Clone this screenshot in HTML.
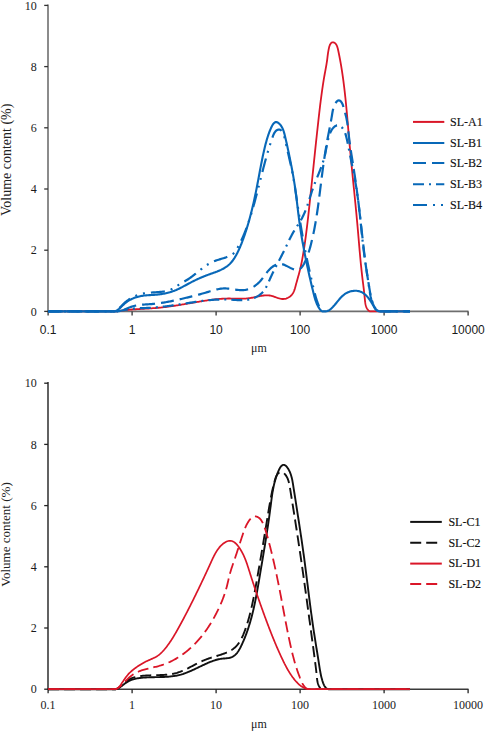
<!DOCTYPE html>
<html><head><meta charset="utf-8"><style>
html,body{margin:0;padding:0;background:#fff;width:485px;height:732px;overflow:hidden}
svg{display:block}
.ser{font-family:"Liberation Serif",serif;font-size:12px;fill:#1a1a1a}
.leg{font-family:"Liberation Serif",serif;font-size:12px;fill:#111;stroke:#111;stroke-width:0.15px}
.ser13{font-family:"Liberation Serif",serif;font-size:13px;fill:#222}
.san{font-family:"Liberation Sans",sans-serif;font-size:12px;fill:#1a1a1a}
</style></head><body>
<svg width="485" height="732" viewBox="0 0 485 732">
<line x1="48" y1="4.5" x2="48" y2="312.0" stroke="#6e6e6e" stroke-width="1.6"/>
<line x1="47.2" y1="311.4" x2="468.5" y2="311.4" stroke="#6e6e6e" stroke-width="1.6"/>
<line x1="44.2" y1="311.4" x2="48" y2="311.4" stroke="#333" stroke-width="1.3"/><text x="36.8" y="315.6" text-anchor="end" class="ser">0</text><line x1="44.2" y1="250.2" x2="48" y2="250.2" stroke="#333" stroke-width="1.3"/><text x="36.8" y="254.4" text-anchor="end" class="ser">2</text><line x1="44.2" y1="189.0" x2="48" y2="189.0" stroke="#333" stroke-width="1.3"/><text x="36.8" y="193.2" text-anchor="end" class="ser">4</text><line x1="44.2" y1="127.8" x2="48" y2="127.8" stroke="#333" stroke-width="1.3"/><text x="36.8" y="132.0" text-anchor="end" class="ser">6</text><line x1="44.2" y1="66.6" x2="48" y2="66.6" stroke="#333" stroke-width="1.3"/><text x="36.8" y="70.8" text-anchor="end" class="ser">8</text><line x1="44.2" y1="5.4" x2="48" y2="5.4" stroke="#333" stroke-width="1.3"/><text x="36.8" y="9.6" text-anchor="end" class="ser">10</text>
<line x1="48.1" y1="311.4" x2="48.1" y2="315.4" stroke="#333" stroke-width="1.3"/><text x="48.1" y="333.5" text-anchor="middle" class="san">0.1</text><line x1="132.1" y1="311.4" x2="132.1" y2="315.4" stroke="#333" stroke-width="1.3"/><text x="132.1" y="333.5" text-anchor="middle" class="san">1</text><line x1="216.1" y1="311.4" x2="216.1" y2="315.4" stroke="#333" stroke-width="1.3"/><text x="216.1" y="333.5" text-anchor="middle" class="san">10</text><line x1="300.1" y1="311.4" x2="300.1" y2="315.4" stroke="#333" stroke-width="1.3"/><text x="300.1" y="333.5" text-anchor="middle" class="san">100</text><line x1="384.1" y1="311.4" x2="384.1" y2="315.4" stroke="#333" stroke-width="1.3"/><text x="384.1" y="333.5" text-anchor="middle" class="san">1000</text><line x1="468.1" y1="311.4" x2="468.1" y2="315.4" stroke="#333" stroke-width="1.3"/><text x="468.1" y="333.5" text-anchor="middle" class="san">10000</text>
<text x="259" y="352.3" text-anchor="middle" class="ser">μm</text>
<text transform="translate(11.3,159.8) rotate(-90)" text-anchor="middle" class="ser13" style="font-size:14px">Volume content (%)</text>
<path d="M48.10,311.40 L113.07,311.40 L114.05,311.40 L115.03,311.40 L116.01,311.40 L116.99,311.34 L117.98,311.16 L118.96,311.00 L119.95,310.85 L120.94,310.70 L121.93,310.56 L122.92,310.43 L123.91,310.31 L124.90,310.19 L125.89,310.08 L126.88,309.97 L127.88,309.87 L128.87,309.78 L129.87,309.69 L130.86,309.60 L131.86,309.52 L132.85,309.44 L133.85,309.37 L134.85,309.30 L135.85,309.23 L136.85,309.17 L137.84,309.11 L138.84,309.05 L139.84,308.99 L140.84,308.93 L141.84,308.87 L142.84,308.82 L143.84,308.76 L144.84,308.71 L145.84,308.65 L146.84,308.59 L147.84,308.54 L148.84,308.48 L149.83,308.42 L150.83,308.35 L151.83,308.29 L152.83,308.22 L153.83,308.15 L154.82,308.08 L155.82,308.00 L156.82,307.92 L157.81,307.83 L158.81,307.74 L159.80,307.65 L160.80,307.55 L161.79,307.45 L162.78,307.34 L163.78,307.23 L164.77,307.11 L165.76,306.99 L166.75,306.86 L167.74,306.73 L168.73,306.60 L169.72,306.47 L170.71,306.33 L171.70,306.19 L172.69,306.04 L173.67,305.90 L174.66,305.75 L175.65,305.60 L176.64,305.44 L177.62,305.28 L178.61,305.13 L179.59,304.97 L180.58,304.80 L181.57,304.64 L182.55,304.48 L183.54,304.31 L184.52,304.14 L185.51,303.98 L186.49,303.81 L187.48,303.64 L188.46,303.47 L189.45,303.30 L190.43,303.13 L191.42,302.96 L192.40,302.79 L193.39,302.62 L194.37,302.45 L195.36,302.29 L196.34,302.12 L197.33,301.95 L198.31,301.79 L199.30,301.62 L200.28,301.46 L201.27,301.30 L202.26,301.14 L203.24,300.98 L204.23,300.83 L205.22,300.68 L206.20,300.53 L207.19,300.38 L208.18,300.23 L209.17,300.09 L210.15,299.96 L211.14,299.82 L212.13,299.69 L213.12,299.57 L214.11,299.45 L215.10,299.34 L216.09,299.23 L217.08,299.13 L218.07,299.04 L219.06,298.95 L220.05,298.87 L221.04,298.80 L222.04,298.73 L223.03,298.67 L224.02,298.63 L225.02,298.59 L226.01,298.55 L227.00,298.53 L228.00,298.52 L228.99,298.52 L229.99,298.52 L230.99,298.54 L231.98,298.55 L232.98,298.58 L233.97,298.60 L234.97,298.62 L235.97,298.65 L236.96,298.67 L237.96,298.69 L238.96,298.70 L239.95,298.71 L240.95,298.71 L241.94,298.70 L242.94,298.68 L243.93,298.64 L244.93,298.59 L245.92,298.53 L246.92,298.45 L247.91,298.35 L248.90,298.23 L249.89,298.09 L250.88,297.93 L251.87,297.75 L252.86,297.55 L253.85,297.35 L254.83,297.13 L255.82,296.92 L256.81,296.70 L257.79,296.49 L258.77,296.28 L259.76,296.08 L260.74,295.90 L261.72,295.74 L262.70,295.60 L263.69,295.48 L264.67,295.39 L265.65,295.33 L266.62,295.31 L267.60,295.33 L268.58,295.40 L269.56,295.51 L270.54,295.67 L271.51,295.88 L272.49,296.15 L273.47,296.46 L274.44,296.80 L275.42,297.15 L276.39,297.51 L277.37,297.86 L278.34,298.18 L279.32,298.47 L280.30,298.71 L281.28,298.89 L282.25,299.00 L283.23,299.02 L284.21,298.95 L285.18,298.79 L286.13,298.54 L287.06,298.21 L287.97,297.80 L288.84,297.33 L289.66,296.78 L290.43,296.18 L291.15,295.52 L291.80,294.81 L292.39,294.04 L292.92,293.24 L293.39,292.40 L293.81,291.52 L294.18,290.62 L294.53,289.69 L294.84,288.74 L295.13,287.77 L295.40,286.80 L295.66,285.81 L295.91,284.83 L296.17,283.84 L296.43,282.86 L296.70,281.89 L296.97,280.92 L297.24,279.95 L297.51,278.99 L297.79,278.03 L298.06,277.07 L298.33,276.11 L298.60,275.15 L298.87,274.20 L299.13,273.24 L299.38,272.27 L299.63,271.31 L299.87,270.35 L300.11,269.38 L300.34,268.41 L300.56,267.44 L300.78,266.46 L301.00,265.49 L301.20,264.51 L301.41,263.54 L301.61,262.56 L301.80,261.58 L301.99,260.60 L302.18,259.61 L302.36,258.63 L302.53,257.65 L302.71,256.66 L302.88,255.67 L303.05,254.69 L303.21,253.70 L303.38,252.71 L303.54,251.73 L303.70,250.74 L303.85,249.75 L304.01,248.76 L304.16,247.77 L304.31,246.78 L304.46,245.79 L304.60,244.80 L304.75,243.81 L304.89,242.83 L305.03,241.84 L305.17,240.85 L305.31,239.85 L305.45,238.86 L305.58,237.87 L305.72,236.88 L305.85,235.89 L305.98,234.90 L306.11,233.91 L306.24,232.92 L306.36,231.93 L306.49,230.93 L306.61,229.94 L306.73,228.95 L306.86,227.96 L306.98,226.97 L307.10,225.97 L307.21,224.98 L307.33,223.99 L307.45,223.00 L307.56,222.00 L307.68,221.01 L307.79,220.02 L307.91,219.02 L308.02,218.03 L308.13,217.04 L308.24,216.04 L308.35,215.05 L308.46,214.06 L308.57,213.06 L308.68,212.07 L308.79,211.08 L308.90,210.08 L309.01,209.09 L309.12,208.09 L309.22,207.10 L309.33,206.11 L309.44,205.11 L309.55,204.12 L309.65,203.12 L309.76,202.13 L309.86,201.14 L309.97,200.14 L310.08,199.15 L310.18,198.15 L310.29,197.16 L310.39,196.16 L310.50,195.17 L310.60,194.18 L310.71,193.18 L310.81,192.19 L310.92,191.19 L311.02,190.20 L311.13,189.20 L311.23,188.21 L311.33,187.21 L311.44,186.22 L311.54,185.23 L311.65,184.23 L311.75,183.24 L311.85,182.24 L311.96,181.25 L312.06,180.25 L312.16,179.26 L312.27,178.26 L312.37,177.27 L312.47,176.27 L312.58,175.28 L312.68,174.28 L312.78,173.29 L312.89,172.29 L312.99,171.30 L313.09,170.31 L313.20,169.31 L313.30,168.32 L313.40,167.32 L313.51,166.33 L313.61,165.33 L313.71,164.34 L313.82,163.34 L313.92,162.35 L314.02,161.35 L314.13,160.36 L314.23,159.36 L314.33,158.37 L314.44,157.37 L314.54,156.38 L314.65,155.38 L314.75,154.39 L314.85,153.40 L314.96,152.40 L315.06,151.41 L315.17,150.41 L315.27,149.42 L315.38,148.42 L315.48,147.43 L315.59,146.43 L315.69,145.44 L315.80,144.45 L315.90,143.45 L316.01,142.46 L316.11,141.46 L316.22,140.47 L316.33,139.47 L316.43,138.48 L316.54,137.49 L316.65,136.49 L316.75,135.50 L316.86,134.50 L316.97,133.51 L317.08,132.52 L317.18,131.52 L317.29,130.53 L317.40,129.54 L317.51,128.54 L317.62,127.55 L317.73,126.55 L317.84,125.56 L317.95,124.57 L318.06,123.57 L318.17,122.58 L318.28,121.59 L318.39,120.59 L318.50,119.60 L318.61,118.61 L318.72,117.62 L318.84,116.62 L318.95,115.63 L319.06,114.64 L319.18,113.64 L319.29,112.65 L319.41,111.66 L319.52,110.67 L319.64,109.67 L319.76,108.68 L319.87,107.69 L319.99,106.70 L320.11,105.70 L320.23,104.71 L320.35,103.72 L320.48,102.73 L320.60,101.74 L320.73,100.74 L320.85,99.75 L320.98,98.76 L321.11,97.77 L321.24,96.78 L321.37,95.79 L321.50,94.80 L321.64,93.81 L321.77,92.82 L321.91,91.82 L322.05,90.83 L322.19,89.84 L322.33,88.85 L322.48,87.86 L322.63,86.87 L322.77,85.88 L322.92,84.89 L323.08,83.90 L323.23,82.91 L323.39,81.93 L323.55,80.94 L323.71,79.95 L323.87,78.96 L324.04,77.97 L324.20,76.98 L324.37,75.99 L324.55,75.00 L324.72,74.02 L324.90,73.03 L325.08,72.04 L325.26,71.05 L325.45,70.07 L325.63,69.08 L325.81,68.10 L325.99,67.11 L326.17,66.13 L326.34,65.15 L326.51,64.17 L326.67,63.19 L326.82,62.22 L326.96,61.25 L327.10,60.28 L327.22,59.31 L327.35,58.35 L327.46,57.38 L327.58,56.40 L327.71,55.42 L327.84,54.43 L327.98,53.42 L328.13,52.41 L328.30,51.37 L328.48,50.32 L328.69,49.25 L328.93,48.16 L329.19,47.06 L329.50,46.00 L329.86,45.02 L330.29,44.14 L330.78,43.40 L331.36,42.84 L332.01,42.47 L332.70,42.30 L333.40,42.32 L334.09,42.53 L334.74,42.91 L335.33,43.40 L335.85,44.00 L336.30,44.68 L336.70,45.43 L337.06,46.25 L337.37,47.13 L337.64,48.05 L337.89,49.00 L338.12,49.98 L338.33,50.98 L338.54,51.98 L338.75,52.98 L338.95,53.97 L339.15,54.97 L339.35,55.97 L339.54,56.97 L339.73,57.96 L339.92,58.96 L340.10,59.96 L340.29,60.96 L340.46,61.95 L340.64,62.95 L340.81,63.95 L340.99,64.94 L341.15,65.94 L341.32,66.94 L341.48,67.93 L341.64,68.93 L341.80,69.92 L341.96,70.92 L342.11,71.92 L342.26,72.91 L342.41,73.91 L342.55,74.90 L342.70,75.90 L342.84,76.89 L342.98,77.89 L343.12,78.89 L343.25,79.88 L343.39,80.88 L343.52,81.87 L343.65,82.87 L343.77,83.86 L343.90,84.86 L344.02,85.85 L344.15,86.85 L344.27,87.84 L344.38,88.83 L344.50,89.83 L344.62,90.82 L344.73,91.82 L344.84,92.81 L344.95,93.81 L345.06,94.80 L345.17,95.79 L345.28,96.79 L345.38,97.78 L345.49,98.78 L345.59,99.77 L345.69,100.77 L345.79,101.76 L345.89,102.75 L345.99,103.75 L346.09,104.74 L346.18,105.73 L346.28,106.73 L346.37,107.72 L346.47,108.72 L346.56,109.71 L346.65,110.70 L346.74,111.70 L346.83,112.69 L346.92,113.68 L347.01,114.68 L347.10,115.67 L347.19,116.67 L347.28,117.66 L347.36,118.65 L347.45,119.65 L347.54,120.64 L347.62,121.63 L347.71,122.63 L347.79,123.62 L347.88,124.61 L347.96,125.61 L348.05,126.60 L348.13,127.60 L348.22,128.59 L348.30,129.58 L348.39,130.58 L348.47,131.57 L348.56,132.56 L348.65,133.56 L348.73,134.55 L348.82,135.55 L348.90,136.54 L348.99,137.53 L349.08,138.53 L349.16,139.52 L349.25,140.52 L349.34,141.51 L349.43,142.51 L349.52,143.50 L349.61,144.49 L349.70,145.49 L349.79,146.48 L349.88,147.48 L349.97,148.47 L350.07,149.47 L350.16,150.46 L350.25,151.46 L350.34,152.45 L350.44,153.45 L350.53,154.44 L350.63,155.43 L350.72,156.43 L350.82,157.42 L350.91,158.42 L351.01,159.41 L351.11,160.41 L351.20,161.40 L351.30,162.40 L351.40,163.39 L351.49,164.39 L351.59,165.39 L351.69,166.38 L351.79,167.38 L351.88,168.37 L351.98,169.37 L352.08,170.36 L352.18,171.36 L352.28,172.35 L352.38,173.35 L352.48,174.34 L352.58,175.34 L352.68,176.33 L352.78,177.33 L352.87,178.33 L352.97,179.32 L353.07,180.32 L353.17,181.31 L353.27,182.31 L353.37,183.31 L353.47,184.30 L353.57,185.30 L353.67,186.29 L353.77,187.29 L353.87,188.28 L353.97,189.28 L354.07,190.28 L354.17,191.27 L354.27,192.27 L354.37,193.27 L354.47,194.26 L354.57,195.26 L354.67,196.25 L354.77,197.25 L354.87,198.25 L354.97,199.24 L355.06,200.24 L355.16,201.23 L355.26,202.23 L355.36,203.23 L355.46,204.22 L355.55,205.22 L355.65,206.22 L355.75,207.21 L355.84,208.21 L355.94,209.21 L356.04,210.20 L356.13,211.20 L356.23,212.20 L356.32,213.19 L356.42,214.19 L356.51,215.19 L356.61,216.18 L356.70,217.18 L356.79,218.18 L356.89,219.17 L356.98,220.17 L357.07,221.17 L357.16,222.16 L357.26,223.16 L357.35,224.16 L357.44,225.15 L357.53,226.15 L357.62,227.15 L357.70,228.14 L357.79,229.14 L357.88,230.14 L357.97,231.13 L358.05,232.13 L358.14,233.13 L358.23,234.12 L358.31,235.12 L358.40,236.12 L358.48,237.11 L358.57,238.11 L358.65,239.11 L358.74,240.10 L358.82,241.10 L358.91,242.10 L358.99,243.09 L359.08,244.09 L359.16,245.08 L359.25,246.08 L359.33,247.08 L359.42,248.07 L359.50,249.07 L359.59,250.06 L359.68,251.06 L359.76,252.05 L359.85,253.05 L359.94,254.04 L360.03,255.04 L360.12,256.03 L360.21,257.02 L360.30,258.02 L360.40,259.01 L360.49,260.00 L360.58,261.00 L360.68,261.99 L360.77,262.98 L360.87,263.97 L360.97,264.96 L361.07,265.96 L361.17,266.95 L361.28,267.94 L361.38,268.93 L361.48,269.92 L361.59,270.91 L361.70,271.90 L361.81,272.88 L361.92,273.87 L362.03,274.86 L362.15,275.85 L362.27,276.83 L362.38,277.82 L362.50,278.81 L362.62,279.80 L362.75,280.78 L362.87,281.77 L362.99,282.76 L363.11,283.75 L363.24,284.74 L363.36,285.74 L363.48,286.73 L363.60,287.73 L363.72,288.73 L363.84,289.73 L363.96,290.73 L364.07,291.74 L364.18,292.75 L364.29,293.77 L364.40,294.79 L364.51,295.81 L364.61,296.83 L364.71,297.86 L364.81,298.90 L364.91,299.93 L365.01,300.96 L365.14,301.98 L365.28,302.98 L365.45,303.96 L365.65,304.91 L365.90,305.83 L366.18,306.72 L366.52,307.56 L366.92,308.36 L367.38,309.10 L367.91,309.78 L368.51,310.39 L369.18,310.92 L369.93,311.35 L370.77,311.40 L371.68,311.40 L372.68,311.40 L373.76,311.40 L374.93,311.40 L376.20,311.40 L410.00,311.40" fill="none" stroke="#DA1628" stroke-width="1.8" stroke-linejoin="round"/>
<path d="M48.10,311.40 L112.01,311.40 L113.01,311.40 L114.01,311.40 L115.00,311.40 L116.00,311.40 L116.99,311.31 L117.97,311.20 L118.96,311.06 L119.94,310.90 L120.92,310.73 L121.90,310.54 L122.88,310.35 L123.86,310.15 L124.84,309.95 L125.82,309.75 L126.80,309.55 L127.78,309.36 L128.76,309.19 L129.75,309.03 L130.73,308.89 L131.72,308.76 L132.72,308.65 L133.71,308.56 L134.71,308.47 L135.70,308.40 L136.70,308.34 L137.70,308.29 L138.70,308.24 L139.70,308.20 L140.70,308.17 L141.70,308.13 L142.70,308.10 L143.70,308.07 L144.70,308.03 L145.70,308.00 L146.70,307.95 L147.70,307.91 L148.70,307.85 L149.70,307.80 L150.70,307.74 L151.70,307.67 L152.69,307.60 L153.69,307.53 L154.68,307.45 L155.68,307.37 L156.67,307.28 L157.67,307.20 L158.66,307.10 L159.65,307.01 L160.65,306.91 L161.64,306.80 L162.63,306.70 L163.62,306.59 L164.61,306.47 L165.60,306.36 L166.60,306.24 L167.59,306.11 L168.58,305.99 L169.57,305.86 L170.56,305.73 L171.55,305.60 L172.53,305.46 L173.52,305.32 L174.51,305.18 L175.50,305.04 L176.49,304.89 L177.48,304.75 L178.47,304.60 L179.46,304.44 L180.44,304.29 L181.43,304.14 L182.42,303.98 L183.41,303.82 L184.40,303.67 L185.39,303.51 L186.37,303.35 L187.36,303.19 L188.35,303.03 L189.34,302.87 L190.33,302.71 L191.32,302.56 L192.30,302.40 L193.29,302.25 L194.28,302.09 L195.27,301.94 L196.26,301.79 L197.25,301.65 L198.24,301.50 L199.23,301.36 L200.22,301.23 L201.21,301.09 L202.20,300.96 L203.19,300.83 L204.18,300.71 L205.17,300.59 L206.16,300.48 L207.16,300.37 L208.15,300.27 L209.14,300.17 L210.13,300.08 L211.13,299.99 L212.12,299.91 L213.11,299.84 L214.11,299.77 L215.10,299.71 L216.10,299.66 L217.09,299.61 L218.09,299.57 L219.09,299.54 L220.08,299.51 L221.08,299.49 L222.08,299.48 L223.08,299.47 L224.08,299.47 L225.08,299.48 L226.08,299.50 L227.08,299.52 L228.08,299.55 L229.08,299.59 L230.08,299.63 L231.08,299.69 L232.09,299.75 L233.09,299.81 L234.09,299.88 L235.10,299.94 L236.10,300.01 L237.10,300.06 L238.11,300.11 L239.11,300.16 L240.11,300.18 L241.11,300.20 L242.11,300.19 L243.11,300.17 L244.10,300.12 L245.10,300.05 L246.09,299.96 L247.08,299.83 L248.07,299.67 L249.05,299.48 L250.03,299.26 L251.00,299.01 L251.95,298.73 L252.90,298.42 L253.83,298.07 L254.75,297.69 L255.65,297.28 L256.53,296.84 L257.39,296.37 L258.23,295.86 L259.04,295.33 L259.83,294.76 L260.59,294.16 L261.32,293.52 L262.01,292.86 L262.68,292.16 L263.31,291.43 L263.90,290.67 L264.47,289.88 L265.01,289.07 L265.53,288.24 L266.02,287.38 L266.50,286.51 L266.95,285.62 L267.40,284.72 L267.83,283.81 L268.25,282.89 L268.67,281.96 L269.08,281.03 L269.49,280.09 L269.90,279.16 L270.31,278.23 L270.73,277.30 L271.15,276.38 L271.57,275.47 L272.00,274.55 L272.43,273.64 L272.87,272.74 L273.31,271.83 L273.75,270.93 L274.20,270.03 L274.65,269.14 L275.10,268.24 L275.55,267.35 L276.00,266.46 L276.46,265.58 L276.91,264.69 L277.37,263.81 L277.83,262.92 L278.29,262.04 L278.75,261.16 L279.21,260.28 L279.67,259.39 L280.13,258.51 L280.58,257.63 L281.04,256.75 L281.50,255.87 L281.95,254.98 L282.41,254.10 L282.86,253.21 L283.31,252.32 L283.75,251.43 L284.20,250.54 L284.64,249.65 L285.08,248.76 L285.51,247.86 L285.94,246.96 L286.37,246.05 L286.80,245.15 L287.23,244.25 L287.66,243.34 L288.08,242.44 L288.51,241.53 L288.95,240.63 L289.38,239.73 L289.82,238.83 L290.27,237.93 L290.72,237.03 L291.18,236.14 L291.65,235.26 L292.12,234.37 L292.60,233.50 L293.10,232.62 L293.60,231.76 L294.12,230.90 L294.64,230.04 L295.17,229.19 L295.71,228.35 L296.25,227.50 L296.80,226.66 L297.34,225.82 L297.88,224.97 L298.42,224.13 L298.96,223.28 L299.49,222.44 L300.01,221.59 L300.53,220.73 L301.03,219.87 L301.52,219.00 L302.00,218.13 L302.46,217.25 L302.91,216.36 L303.34,215.47 L303.76,214.57 L304.17,213.66 L304.57,212.75 L304.96,211.83 L305.33,210.91 L305.70,209.98 L306.06,209.05 L306.41,208.12 L306.75,207.18 L307.09,206.23 L307.41,205.29 L307.74,204.34 L308.05,203.39 L308.37,202.44 L308.68,201.49 L308.98,200.53 L309.29,199.58 L309.59,198.62 L309.89,197.66 L310.19,196.71 L310.49,195.75 L310.80,194.79 L311.10,193.84 L311.40,192.88 L311.71,191.93 L312.02,190.98 L312.34,190.03 L312.66,189.09 L312.99,188.15 L313.32,187.21 L313.66,186.27 L314.00,185.34 L314.35,184.41 L314.71,183.48 L315.07,182.56 L315.43,181.64 L315.80,180.72 L316.18,179.80 L316.55,178.88 L316.93,177.96 L317.30,177.04 L317.68,176.13 L318.06,175.21 L318.43,174.29 L318.81,173.36 L319.18,172.44 L319.55,171.51 L319.91,170.59 L320.28,169.65 L320.63,168.72 L320.99,167.78 L321.33,166.84 L321.67,165.89 L322.01,164.95 L322.33,164.00 L322.65,163.05 L322.96,162.10 L323.26,161.14 L323.55,160.19 L323.83,159.23 L324.10,158.28 L324.36,157.32 L324.61,156.36 L324.85,155.41 L325.07,154.45 L325.28,153.50 L325.48,152.54 L325.67,151.58 L325.85,150.63 L326.03,149.67 L326.21,148.70 L326.39,147.74 L326.57,146.77 L326.75,145.80 L326.94,144.83 L327.13,143.85 L327.33,142.87 L327.54,141.88 L327.76,140.89 L328.00,139.89 L328.26,138.89 L328.53,137.88 L328.82,136.86 L329.13,135.84 L329.47,134.82 L329.84,133.81 L330.24,132.82 L330.67,131.86 L331.15,130.92 L331.66,130.03 L332.21,129.17 L332.81,128.38 L333.44,127.65 L334.11,127.00 L334.80,126.44 L335.51,125.98 L336.24,125.64 L336.97,125.43 L337.72,125.36 L338.46,125.43 L339.20,125.63 L339.92,125.95 L340.63,126.38 L341.31,126.90 L341.97,127.52 L342.59,128.22 L343.17,128.99 L343.71,129.82 L344.19,130.70 L344.63,131.62 L345.01,132.58 L345.37,133.56 L345.68,134.57 L345.97,135.59 L346.24,136.62 L346.49,137.65 L346.73,138.68 L346.97,139.70 L347.19,140.71 L347.41,141.71 L347.62,142.70 L347.83,143.69 L348.03,144.68 L348.22,145.66 L348.42,146.63 L348.61,147.61 L348.79,148.58 L348.98,149.55 L349.17,150.51 L349.35,151.48 L349.53,152.44 L349.72,153.41 L349.91,154.38 L350.10,155.34 L350.29,156.31 L350.48,157.28 L350.67,158.25 L350.87,159.23 L351.06,160.20 L351.26,161.17 L351.45,162.15 L351.65,163.12 L351.85,164.10 L352.05,165.08 L352.24,166.06 L352.44,167.03 L352.64,168.01 L352.84,168.99 L353.03,169.98 L353.23,170.96 L353.43,171.94 L353.62,172.92 L353.81,173.91 L354.01,174.89 L354.20,175.88 L354.39,176.86 L354.57,177.85 L354.76,178.83 L354.94,179.82 L355.13,180.81 L355.31,181.79 L355.48,182.78 L355.66,183.77 L355.83,184.76 L356.00,185.75 L356.17,186.74 L356.33,187.72 L356.49,188.71 L356.65,189.70 L356.80,190.69 L356.95,191.68 L357.10,192.67 L357.25,193.66 L357.39,194.65 L357.53,195.64 L357.67,196.63 L357.81,197.62 L357.94,198.61 L358.07,199.60 L358.20,200.59 L358.33,201.58 L358.45,202.57 L358.58,203.56 L358.70,204.55 L358.82,205.55 L358.94,206.54 L359.05,207.53 L359.17,208.52 L359.28,209.51 L359.40,210.50 L359.51,211.49 L359.62,212.49 L359.73,213.48 L359.83,214.47 L359.94,215.46 L360.05,216.46 L360.15,217.45 L360.26,218.44 L360.36,219.43 L360.46,220.43 L360.57,221.42 L360.67,222.41 L360.77,223.40 L360.87,224.40 L360.97,225.39 L361.08,226.38 L361.18,227.38 L361.28,228.37 L361.38,229.36 L361.48,230.36 L361.59,231.35 L361.69,232.34 L361.79,233.34 L361.89,234.33 L362.00,235.32 L362.10,236.32 L362.21,237.31 L362.31,238.31 L362.42,239.30 L362.53,240.29 L362.64,241.29 L362.75,242.28 L362.86,243.28 L362.98,244.27 L363.09,245.26 L363.21,246.26 L363.32,247.25 L363.44,248.25 L363.56,249.24 L363.68,250.23 L363.81,251.23 L363.94,252.22 L364.06,253.22 L364.19,254.21 L364.33,255.21 L364.46,256.20 L364.60,257.19 L364.74,258.19 L364.88,259.18 L365.02,260.17 L365.16,261.17 L365.30,262.16 L365.45,263.15 L365.60,264.14 L365.74,265.13 L365.89,266.12 L366.04,267.10 L366.19,268.09 L366.34,269.08 L366.49,270.06 L366.64,271.04 L366.79,272.02 L366.94,273.00 L367.09,273.98 L367.24,274.96 L367.39,275.93 L367.54,276.91 L367.69,277.89 L367.84,278.86 L367.99,279.84 L368.14,280.82 L368.29,281.80 L368.43,282.79 L368.58,283.77 L368.73,284.76 L368.87,285.76 L369.02,286.75 L369.17,287.75 L369.31,288.76 L369.46,289.76 L369.61,290.77 L369.76,291.78 L369.92,292.79 L370.09,293.80 L370.27,294.80 L370.46,295.80 L370.66,296.80 L370.88,297.78 L371.12,298.76 L371.37,299.73 L371.65,300.69 L371.95,301.63 L372.28,302.57 L372.63,303.48 L373.00,304.38 L373.41,305.27 L373.85,306.13 L374.33,306.97 L374.84,307.76 L375.39,308.52 L375.99,309.22 L376.64,309.86 L377.34,310.42 L378.09,310.91 L378.90,311.30 L379.78,311.40 L380.70,311.40 L381.69,311.40 L382.74,311.40 L383.85,311.40 L385.02,311.40 L386.25,311.40 L410.00,311.40" fill="none" stroke="#0868B8" stroke-width="2.2" stroke-dasharray="11 5 2 5" stroke-linejoin="round"/>
<path d="M48.60,311.40 L108.83,311.40 L110.03,311.40 L111.15,311.40 L112.21,311.40 L113.20,311.40 L114.13,311.40 L115.01,311.14 L115.85,310.75 L116.66,310.28 L117.42,309.74 L118.17,309.15 L118.89,308.51 L119.59,307.83 L120.29,307.12 L120.98,306.40 L121.68,305.67 L122.39,304.95 L123.11,304.24 L123.84,303.55 L124.59,302.87 L125.36,302.21 L126.13,301.57 L126.92,300.95 L127.73,300.35 L128.54,299.77 L129.37,299.21 L130.21,298.67 L131.06,298.15 L131.93,297.66 L132.80,297.20 L133.69,296.75 L134.58,296.34 L135.49,295.95 L136.41,295.58 L137.33,295.24 L138.27,294.92 L139.21,294.62 L140.16,294.35 L141.11,294.09 L142.08,293.86 L143.04,293.65 L144.02,293.45 L145.00,293.27 L145.98,293.11 L146.97,292.97 L147.96,292.85 L148.95,292.74 L149.94,292.64 L150.94,292.56 L151.94,292.49 L152.94,292.42 L153.94,292.36 L154.94,292.30 L155.94,292.24 L156.94,292.18 L157.94,292.12 L158.94,292.05 L159.93,291.96 L160.93,291.87 L161.92,291.76 L162.91,291.63 L163.90,291.49 L164.88,291.32 L165.86,291.12 L166.83,290.90 L167.78,290.64 L168.72,290.35 L169.65,290.02 L170.56,289.64 L171.46,289.22 L172.33,288.77 L173.20,288.28 L174.05,287.77 L174.90,287.24 L175.74,286.70 L176.58,286.16 L177.42,285.62 L178.27,285.09 L179.13,284.57 L179.98,284.06 L180.84,283.56 L181.70,283.06 L182.56,282.56 L183.42,282.06 L184.28,281.56 L185.13,281.06 L185.99,280.55 L186.84,280.03 L187.68,279.50 L188.51,278.96 L189.34,278.41 L190.16,277.85 L190.98,277.27 L191.79,276.68 L192.59,276.08 L193.38,275.47 L194.18,274.85 L194.96,274.22 L195.75,273.59 L196.53,272.95 L197.31,272.32 L198.10,271.68 L198.88,271.04 L199.66,270.41 L200.45,269.78 L201.23,269.15 L202.02,268.54 L202.82,267.92 L203.62,267.32 L204.42,266.73 L205.24,266.15 L206.05,265.59 L206.88,265.04 L207.72,264.51 L208.56,263.99 L209.42,263.49 L210.29,263.02 L211.17,262.57 L212.06,262.14 L212.96,261.73 L213.88,261.35 L214.80,260.99 L215.74,260.65 L216.68,260.32 L217.63,260.00 L218.59,259.70 L219.54,259.40 L220.50,259.11 L221.46,258.81 L222.41,258.52 L223.37,258.23 L224.32,257.93 L225.26,257.62 L226.19,257.31 L227.12,256.97 L228.03,256.63 L228.93,256.26 L229.81,255.86 L230.67,255.43 L231.49,254.96 L232.28,254.43 L233.03,253.85 L233.74,253.21 L234.41,252.50 L235.03,251.73 L235.61,250.92 L236.17,250.07 L236.70,249.20 L237.22,248.31 L237.72,247.42 L238.22,246.53 L238.70,245.64 L239.18,244.74 L239.65,243.84 L240.10,242.94 L240.55,242.04 L240.99,241.14 L241.42,240.23 L241.85,239.32 L242.26,238.41 L242.67,237.50 L243.07,236.59 L243.46,235.68 L243.85,234.76 L244.23,233.84 L244.60,232.92 L244.97,232.00 L245.33,231.07 L245.69,230.15 L246.04,229.22 L246.38,228.29 L246.72,227.36 L247.06,226.43 L247.39,225.49 L247.72,224.56 L248.05,223.62 L248.37,222.68 L248.68,221.74 L249.00,220.79 L249.31,219.85 L249.62,218.90 L249.92,217.95 L250.22,217.00 L250.52,216.05 L250.82,215.10 L251.11,214.15 L251.40,213.19 L251.69,212.23 L251.98,211.28 L252.26,210.32 L252.54,209.36 L252.82,208.40 L253.10,207.43 L253.37,206.47 L253.65,205.51 L253.92,204.54 L254.19,203.58 L254.45,202.61 L254.72,201.64 L254.98,200.68 L255.24,199.71 L255.50,198.74 L255.76,197.77 L256.02,196.80 L256.28,195.83 L256.53,194.86 L256.78,193.89 L257.04,192.92 L257.29,191.95 L257.54,190.98 L257.79,190.01 L258.04,189.04 L258.29,188.06 L258.53,187.09 L258.78,186.12 L259.03,185.15 L259.27,184.18 L259.52,183.21 L259.76,182.24 L260.01,181.27 L260.25,180.30 L260.50,179.33 L260.74,178.37 L260.99,177.40 L261.23,176.43 L261.48,175.47 L261.72,174.50 L261.97,173.54 L262.21,172.57 L262.46,171.61 L262.71,170.65 L262.96,169.69 L263.20,168.73 L263.45,167.77 L263.70,166.81 L263.95,165.85 L264.21,164.90 L264.46,163.94 L264.72,162.99 L264.97,162.04 L265.23,161.08 L265.49,160.13 L265.75,159.18 L266.01,158.23 L266.28,157.27 L266.55,156.32 L266.82,155.36 L267.09,154.41 L267.37,153.45 L267.65,152.49 L267.93,151.54 L268.22,150.57 L268.51,149.61 L268.80,148.65 L269.10,147.68 L269.40,146.71 L269.71,145.74 L270.02,144.77 L270.33,143.79 L270.65,142.82 L270.97,141.83 L271.30,140.85 L271.63,139.86 L271.97,138.87 L272.31,137.87 L272.66,136.87 L273.03,135.89 L273.41,134.92 L273.82,133.99 L274.27,133.12 L274.76,132.30 L275.30,131.57 L275.89,130.92 L276.55,130.38 L277.25,129.96 L277.98,129.68 L278.72,129.54 L279.45,129.57 L280.15,129.77 L280.81,130.17 L281.42,130.73 L281.99,131.43 L282.51,132.25 L282.99,133.16 L283.42,134.13 L283.81,135.14 L284.16,136.17 L284.46,137.18 L284.73,138.19 L284.98,139.18 L285.20,140.17 L285.42,141.15 L285.62,142.13 L285.83,143.11 L286.04,144.09 L286.26,145.07 L286.47,146.05 L286.69,147.02 L286.91,148.00 L287.13,148.98 L287.35,149.95 L287.58,150.92 L287.80,151.90 L288.03,152.87 L288.25,153.85 L288.48,154.82 L288.70,155.79 L288.93,156.76 L289.15,157.74 L289.38,158.71 L289.60,159.68 L289.82,160.65 L290.05,161.63 L290.27,162.60 L290.48,163.57 L290.70,164.55 L290.91,165.52 L291.13,166.50 L291.33,167.47 L291.54,168.45 L291.74,169.42 L291.94,170.40 L292.14,171.38 L292.33,172.36 L292.52,173.33 L292.71,174.31 L292.89,175.29 L293.07,176.28 L293.25,177.26 L293.43,178.24 L293.60,179.22 L293.77,180.21 L293.93,181.19 L294.10,182.17 L294.26,183.16 L294.42,184.14 L294.58,185.13 L294.74,186.12 L294.89,187.10 L295.05,188.09 L295.20,189.08 L295.35,190.06 L295.50,191.05 L295.65,192.04 L295.80,193.03 L295.95,194.01 L296.09,195.00 L296.24,195.99 L296.39,196.98 L296.53,197.97 L296.68,198.96 L296.83,199.94 L296.98,200.93 L297.12,201.92 L297.27,202.91 L297.42,203.90 L297.57,204.89 L297.72,205.87 L297.86,206.86 L298.01,207.85 L298.16,208.84 L298.31,209.83 L298.46,210.82 L298.62,211.80 L298.77,212.79 L298.92,213.78 L299.07,214.77 L299.22,215.75 L299.38,216.74 L299.53,217.73 L299.69,218.71 L299.84,219.70 L300.00,220.69 L300.16,221.68 L300.32,222.66 L300.47,223.65 L300.63,224.63 L300.79,225.62 L300.95,226.61 L301.12,227.59 L301.28,228.58 L301.44,229.56 L301.61,230.55 L301.77,231.53 L301.94,232.52 L302.11,233.50 L302.28,234.49 L302.45,235.47 L302.62,236.45 L302.79,237.44 L302.96,238.42 L303.14,239.40 L303.31,240.39 L303.49,241.37 L303.67,242.35 L303.85,243.33 L304.03,244.32 L304.21,245.30 L304.40,246.28 L304.58,247.26 L304.77,248.24 L304.95,249.22 L305.14,250.20 L305.33,251.18 L305.53,252.16 L305.72,253.14 L305.91,254.12 L306.11,255.09 L306.31,256.07 L306.51,257.05 L306.71,258.03 L306.91,259.00 L307.12,259.98 L307.33,260.96 L307.53,261.93 L307.74,262.91 L307.95,263.89 L308.16,264.86 L308.38,265.84 L308.59,266.81 L308.81,267.79 L309.02,268.76 L309.24,269.74 L309.46,270.71 L309.68,271.69 L309.90,272.66 L310.12,273.63 L310.34,274.61 L310.56,275.58 L310.78,276.56 L311.01,277.53 L311.23,278.51 L311.46,279.48 L311.68,280.46 L311.91,281.43 L312.14,282.41 L312.37,283.38 L312.59,284.36 L312.82,285.34 L313.05,286.31 L313.28,287.29 L313.51,288.26 L313.74,289.24 L313.98,290.21 L314.22,291.19 L314.46,292.16 L314.71,293.13 L314.96,294.09 L315.22,295.06 L315.49,296.02 L315.76,296.98 L316.04,297.94 L316.33,298.89 L316.63,299.83 L316.94,300.78 L317.26,301.72 L317.59,302.65 L317.93,303.58 L318.28,304.50 L318.65,305.42 L319.03,306.33 L319.42,307.24 L319.83,308.14 L320.25,309.03 L320.69,309.91 L321.14,310.79 L321.62,311.40" fill="none" stroke="#0868B8" stroke-width="2.2" stroke-dasharray="14 6 2 6 2 6" stroke-linejoin="round"/>
<path d="M48.10,311.40 L114.04,311.40 L115.04,311.40 L116.02,311.40 L116.99,311.40 L117.96,311.34 L118.92,311.18 L119.87,310.97 L120.82,310.72 L121.76,310.44 L122.70,310.13 L123.63,309.80 L124.56,309.45 L125.49,309.09 L126.43,308.72 L127.36,308.34 L128.29,307.97 L129.22,307.60 L130.16,307.24 L131.10,306.90 L132.05,306.58 L133.00,306.28 L133.96,306.02 L134.92,305.78 L135.89,305.57 L136.87,305.38 L137.85,305.22 L138.83,305.07 L139.82,304.94 L140.81,304.83 L141.81,304.73 L142.80,304.65 L143.80,304.57 L144.80,304.50 L145.81,304.43 L146.81,304.37 L147.81,304.31 L148.81,304.24 L149.82,304.18 L150.82,304.11 L151.82,304.03 L152.81,303.94 L153.81,303.84 L154.80,303.74 L155.80,303.64 L156.79,303.52 L157.78,303.40 L158.77,303.27 L159.76,303.14 L160.75,303.00 L161.73,302.85 L162.72,302.70 L163.70,302.54 L164.68,302.38 L165.66,302.21 L166.64,302.04 L167.62,301.86 L168.60,301.67 L169.58,301.49 L170.56,301.30 L171.54,301.10 L172.51,300.90 L173.49,300.70 L174.46,300.49 L175.44,300.28 L176.41,300.07 L177.38,299.85 L178.35,299.63 L179.33,299.41 L180.30,299.18 L181.27,298.96 L182.24,298.73 L183.21,298.50 L184.18,298.26 L185.15,298.03 L186.12,297.79 L187.09,297.56 L188.06,297.32 L189.03,297.08 L190.00,296.84 L190.97,296.60 L191.94,296.35 L192.91,296.11 L193.88,295.86 L194.85,295.61 L195.82,295.36 L196.79,295.11 L197.75,294.86 L198.72,294.60 L199.68,294.34 L200.65,294.08 L201.61,293.81 L202.58,293.54 L203.54,293.27 L204.50,292.99 L205.46,292.71 L206.41,292.43 L207.37,292.14 L208.33,291.85 L209.28,291.56 L210.23,291.27 L211.19,290.98 L212.14,290.69 L213.09,290.41 L214.05,290.14 L215.00,289.89 L215.96,289.64 L216.92,289.42 L217.88,289.21 L218.84,289.02 L219.81,288.85 L220.78,288.71 L221.75,288.60 L222.73,288.51 L223.71,288.46 L224.69,288.44 L225.69,288.45 L226.68,288.50 L227.68,288.58 L228.68,288.68 L229.68,288.79 L230.69,288.93 L231.70,289.07 L232.71,289.22 L233.71,289.37 L234.72,289.52 L235.73,289.67 L236.73,289.80 L237.73,289.92 L238.73,290.02 L239.72,290.10 L240.71,290.15 L241.70,290.17 L242.68,290.16 L243.65,290.10 L244.61,290.00 L245.57,289.85 L246.52,289.66 L247.46,289.42 L248.39,289.14 L249.31,288.82 L250.22,288.45 L251.11,288.05 L251.99,287.60 L252.86,287.13 L253.71,286.61 L254.55,286.07 L255.37,285.49 L256.17,284.89 L256.95,284.25 L257.72,283.59 L258.46,282.90 L259.18,282.19 L259.88,281.45 L260.56,280.70 L261.22,279.92 L261.86,279.14 L262.49,278.34 L263.10,277.53 L263.71,276.72 L264.31,275.90 L264.91,275.09 L265.50,274.28 L266.10,273.47 L266.71,272.68 L267.33,271.90 L267.95,271.13 L268.59,270.39 L269.25,269.67 L269.92,268.97 L270.62,268.30 L271.34,267.67 L272.10,267.07 L272.88,266.50 L273.69,265.98 L274.54,265.51 L275.41,265.09 L276.30,264.73 L277.21,264.43 L278.13,264.20 L279.07,264.05 L280.01,263.98 L280.95,264.01 L281.89,264.12 L282.82,264.33 L283.75,264.63 L284.67,265.00 L285.60,265.43 L286.53,265.89 L287.47,266.39 L288.42,266.90 L289.37,267.40 L290.34,267.89 L291.31,268.35 L292.28,268.77 L293.25,269.13 L294.21,269.44 L295.15,269.66 L296.06,269.80 L296.95,269.84 L297.80,269.77 L298.62,269.58 L299.38,269.26 L300.11,268.81 L300.79,268.26 L301.43,267.62 L302.04,266.89 L302.62,266.10 L303.16,265.25 L303.68,264.36 L304.18,263.44 L304.65,262.50 L305.10,261.57 L305.53,260.63 L305.95,259.69 L306.35,258.75 L306.73,257.81 L307.10,256.86 L307.46,255.92 L307.80,254.97 L308.12,254.02 L308.44,253.08 L308.75,252.13 L309.04,251.17 L309.33,250.22 L309.61,249.27 L309.88,248.31 L310.14,247.36 L310.40,246.40 L310.65,245.44 L310.90,244.48 L311.15,243.52 L311.39,242.55 L311.62,241.59 L311.85,240.62 L312.08,239.66 L312.31,238.69 L312.53,237.72 L312.75,236.75 L312.96,235.78 L313.17,234.81 L313.38,233.84 L313.58,232.87 L313.78,231.89 L313.97,230.92 L314.17,229.94 L314.36,228.96 L314.55,227.98 L314.73,227.01 L314.91,226.03 L315.09,225.05 L315.27,224.06 L315.44,223.08 L315.61,222.10 L315.78,221.12 L315.94,220.13 L316.10,219.15 L316.27,218.16 L316.42,217.18 L316.58,216.19 L316.73,215.20 L316.89,214.21 L317.04,213.23 L317.18,212.24 L317.33,211.25 L317.47,210.26 L317.62,209.27 L317.76,208.28 L317.90,207.29 L318.04,206.30 L318.17,205.31 L318.31,204.31 L318.44,203.32 L318.58,202.33 L318.71,201.34 L318.84,200.34 L318.97,199.35 L319.10,198.36 L319.22,197.36 L319.35,196.37 L319.48,195.38 L319.60,194.38 L319.73,193.39 L319.85,192.40 L319.98,191.40 L320.10,190.41 L320.22,189.41 L320.35,188.42 L320.47,187.43 L320.59,186.43 L320.72,185.44 L320.84,184.45 L320.96,183.45 L321.09,182.46 L321.21,181.47 L321.34,180.47 L321.46,179.48 L321.59,178.49 L321.71,177.50 L321.84,176.51 L321.96,175.51 L322.09,174.52 L322.22,173.53 L322.35,172.54 L322.48,171.55 L322.61,170.56 L322.74,169.57 L322.88,168.59 L323.01,167.60 L323.15,166.61 L323.29,165.62 L323.42,164.64 L323.56,163.65 L323.70,162.66 L323.85,161.68 L323.99,160.69 L324.13,159.71 L324.28,158.72 L324.43,157.74 L324.58,156.75 L324.73,155.77 L324.88,154.78 L325.03,153.80 L325.18,152.81 L325.34,151.83 L325.50,150.85 L325.66,149.86 L325.82,148.88 L325.98,147.90 L326.14,146.91 L326.31,145.93 L326.48,144.95 L326.65,143.96 L326.82,142.98 L326.99,142.00 L327.17,141.01 L327.34,140.03 L327.52,139.05 L327.70,138.07 L327.89,137.08 L328.07,136.10 L328.26,135.12 L328.44,134.13 L328.63,133.15 L328.83,132.17 L329.02,131.18 L329.21,130.20 L329.41,129.22 L329.60,128.24 L329.79,127.25 L329.98,126.27 L330.18,125.29 L330.36,124.30 L330.55,123.32 L330.74,122.34 L330.92,121.36 L331.10,120.37 L331.28,119.39 L331.45,118.41 L331.62,117.43 L331.79,116.45 L331.95,115.46 L332.10,114.48 L332.26,113.50 L332.43,112.52 L332.61,111.54 L332.80,110.56 L333.03,109.58 L333.28,108.59 L333.58,107.61 L333.91,106.62 L334.30,105.64 L334.74,104.65 L335.23,103.70 L335.76,102.81 L336.33,102.01 L336.93,101.33 L337.55,100.81 L338.19,100.47 L338.83,100.35 L339.48,100.47 L340.12,100.80 L340.74,101.33 L341.32,102.00 L341.85,102.81 L342.32,103.71 L342.72,104.68 L343.07,105.69 L343.38,106.73 L343.67,107.77 L343.95,108.79 L344.24,109.80 L344.52,110.79 L344.79,111.77 L345.07,112.74 L345.33,113.70 L345.58,114.66 L345.83,115.61 L346.06,116.57 L346.28,117.52 L346.49,118.49 L346.68,119.45 L346.87,120.42 L347.04,121.39 L347.20,122.37 L347.35,123.35 L347.49,124.33 L347.62,125.32 L347.75,126.31 L347.88,127.30 L347.99,128.29 L348.11,129.28 L348.22,130.28 L348.33,131.27 L348.44,132.27 L348.55,133.26 L348.66,134.26 L348.77,135.25 L348.89,136.25 L349.01,137.24 L349.13,138.24 L349.26,139.23 L349.38,140.22 L349.51,141.21 L349.65,142.21 L349.78,143.20 L349.92,144.19 L350.06,145.18 L350.20,146.17 L350.34,147.15 L350.49,148.14 L350.63,149.13 L350.78,150.12 L350.93,151.11 L351.08,152.09 L351.23,153.08 L351.39,154.07 L351.54,155.05 L351.70,156.04 L351.85,157.03 L352.01,158.01 L352.16,159.00 L352.32,159.99 L352.48,160.97 L352.63,161.96 L352.79,162.94 L352.95,163.93 L353.11,164.91 L353.26,165.90 L353.42,166.89 L353.57,167.87 L353.73,168.86 L353.88,169.84 L354.04,170.83 L354.19,171.82 L354.34,172.80 L354.49,173.79 L354.64,174.78 L354.79,175.77 L354.93,176.75 L355.08,177.74 L355.22,178.73 L355.37,179.72 L355.51,180.71 L355.65,181.69 L355.79,182.68 L355.93,183.67 L356.06,184.66 L356.20,185.65 L356.34,186.64 L356.47,187.63 L356.61,188.62 L356.74,189.61 L356.87,190.60 L357.00,191.59 L357.13,192.58 L357.26,193.57 L357.39,194.56 L357.52,195.55 L357.64,196.55 L357.77,197.54 L357.90,198.53 L358.02,199.52 L358.15,200.51 L358.27,201.50 L358.39,202.50 L358.51,203.49 L358.64,204.48 L358.76,205.47 L358.88,206.46 L359.00,207.46 L359.12,208.45 L359.23,209.44 L359.35,210.43 L359.47,211.43 L359.59,212.42 L359.70,213.41 L359.82,214.40 L359.94,215.40 L360.05,216.39 L360.17,217.38 L360.28,218.37 L360.40,219.37 L360.51,220.36 L360.63,221.35 L360.74,222.35 L360.85,223.34 L360.97,224.33 L361.08,225.32 L361.19,226.32 L361.30,227.31 L361.42,228.30 L361.53,229.30 L361.64,230.29 L361.75,231.28 L361.87,232.27 L361.98,233.27 L362.09,234.26 L362.20,235.25 L362.31,236.25 L362.43,237.24 L362.54,238.23 L362.65,239.22 L362.76,240.22 L362.88,241.21 L362.99,242.20 L363.10,243.19 L363.21,244.18 L363.33,245.18 L363.44,246.17 L363.55,247.16 L363.67,248.15 L363.78,249.14 L363.90,250.13 L364.01,251.13 L364.13,252.12 L364.24,253.11 L364.36,254.10 L364.48,255.09 L364.60,256.08 L364.72,257.07 L364.84,258.06 L364.96,259.05 L365.09,260.05 L365.21,261.04 L365.34,262.03 L365.47,263.02 L365.60,264.01 L365.74,265.00 L365.87,265.99 L366.01,266.98 L366.16,267.97 L366.30,268.96 L366.45,269.95 L366.60,270.94 L366.75,271.93 L366.90,272.92 L367.05,273.91 L367.21,274.90 L367.37,275.89 L367.53,276.88 L367.69,277.87 L367.85,278.86 L368.01,279.84 L368.17,280.83 L368.33,281.82 L368.49,282.80 L368.65,283.79 L368.81,284.77 L368.97,285.75 L369.13,286.73 L369.29,287.71 L369.46,288.69 L369.62,289.67 L369.79,290.65 L369.96,291.62 L370.14,292.60 L370.33,293.57 L370.53,294.55 L370.73,295.52 L370.95,296.50 L371.18,297.47 L371.42,298.44 L371.67,299.41 L371.94,300.39 L372.23,301.36 L372.54,302.33 L372.86,303.30 L373.21,304.27 L373.58,305.23 L373.98,306.16 L374.42,307.06 L374.90,307.91 L375.43,308.70 L376.01,309.42 L376.65,310.05 L377.36,310.59 L378.13,311.01 L378.98,311.33 L379.90,311.40 L380.86,311.40 L381.87,311.40 L382.91,311.40 L383.97,311.40 L385.03,311.40 L386.09,311.40 L410.00,311.40" fill="none" stroke="#0868B8" stroke-width="2.2" stroke-dasharray="13 6" stroke-linejoin="round"/>
<path d="M48.10,311.40 L108.80,311.40 L110.00,311.40 L111.13,311.40 L112.19,311.40 L113.21,311.40 L114.17,311.40 L115.08,311.21 L115.95,310.86 L116.79,310.42 L117.59,309.92 L118.37,309.37 L119.13,308.76 L119.87,308.11 L120.60,307.44 L121.32,306.74 L122.05,306.03 L122.77,305.32 L123.51,304.62 L124.25,303.94 L125.02,303.29 L125.80,302.66 L126.60,302.06 L127.42,301.49 L128.25,300.94 L129.10,300.42 L129.96,299.92 L130.84,299.46 L131.72,299.01 L132.62,298.60 L133.53,298.21 L134.45,297.85 L135.39,297.51 L136.33,297.20 L137.28,296.91 L138.23,296.65 L139.20,296.41 L140.17,296.20 L141.15,296.01 L142.13,295.85 L143.12,295.70 L144.11,295.57 L145.10,295.46 L146.10,295.37 L147.10,295.28 L148.10,295.21 L149.11,295.14 L150.11,295.08 L151.12,295.02 L152.13,294.96 L153.13,294.90 L154.14,294.84 L155.14,294.77 L156.14,294.70 L157.14,294.61 L158.14,294.52 L159.13,294.41 L160.12,294.28 L161.10,294.15 L162.08,294.00 L163.06,293.83 L164.03,293.65 L165.00,293.46 L165.97,293.25 L166.93,293.02 L167.89,292.78 L168.84,292.53 L169.79,292.26 L170.73,291.97 L171.67,291.67 L172.60,291.35 L173.53,291.02 L174.46,290.67 L175.37,290.30 L176.29,289.92 L177.20,289.52 L178.10,289.11 L179.01,288.68 L179.91,288.24 L180.80,287.80 L181.69,287.34 L182.58,286.88 L183.47,286.41 L184.36,285.94 L185.25,285.46 L186.13,284.98 L187.02,284.50 L187.91,284.02 L188.79,283.54 L189.68,283.07 L190.57,282.59 L191.46,282.13 L192.35,281.67 L193.25,281.22 L194.15,280.77 L195.05,280.33 L195.95,279.90 L196.85,279.47 L197.76,279.05 L198.67,278.64 L199.58,278.23 L200.50,277.83 L201.41,277.44 L202.33,277.05 L203.25,276.67 L204.18,276.30 L205.11,275.93 L206.04,275.57 L206.97,275.22 L207.90,274.87 L208.84,274.53 L209.78,274.19 L210.72,273.86 L211.66,273.53 L212.60,273.20 L213.54,272.86 L214.48,272.52 L215.41,272.17 L216.34,271.82 L217.27,271.46 L218.19,271.08 L219.10,270.69 L220.01,270.29 L220.91,269.87 L221.80,269.43 L222.69,268.97 L223.56,268.49 L224.42,267.99 L225.27,267.46 L226.11,266.90 L226.93,266.32 L227.73,265.71 L228.50,265.08 L229.26,264.42 L229.98,263.74 L230.67,263.03 L231.33,262.30 L231.97,261.54 L232.57,260.76 L233.15,259.97 L233.71,259.15 L234.25,258.33 L234.77,257.49 L235.28,256.64 L235.78,255.78 L236.26,254.91 L236.74,254.03 L237.20,253.15 L237.65,252.26 L238.09,251.36 L238.52,250.45 L238.95,249.54 L239.36,248.63 L239.76,247.71 L240.16,246.79 L240.55,245.86 L240.93,244.93 L241.31,244.00 L241.67,243.06 L242.04,242.13 L242.39,241.19 L242.74,240.25 L243.09,239.31 L243.43,238.37 L243.77,237.43 L244.10,236.49 L244.43,235.55 L244.75,234.61 L245.07,233.66 L245.38,232.72 L245.69,231.78 L246.00,230.83 L246.30,229.88 L246.60,228.94 L246.90,227.99 L247.19,227.04 L247.48,226.09 L247.76,225.13 L248.04,224.18 L248.32,223.22 L248.60,222.27 L248.87,221.31 L249.14,220.35 L249.41,219.39 L249.67,218.43 L249.93,217.46 L250.19,216.50 L250.45,215.53 L250.70,214.56 L250.95,213.60 L251.20,212.63 L251.44,211.66 L251.68,210.69 L251.92,209.71 L252.16,208.74 L252.40,207.77 L252.63,206.79 L252.86,205.82 L253.09,204.84 L253.31,203.86 L253.54,202.89 L253.76,201.91 L253.98,200.93 L254.19,199.95 L254.41,198.97 L254.62,197.99 L254.83,197.01 L255.04,196.03 L255.25,195.05 L255.45,194.07 L255.65,193.09 L255.86,192.11 L256.05,191.13 L256.25,190.15 L256.45,189.17 L256.64,188.19 L256.83,187.21 L257.02,186.23 L257.21,185.25 L257.40,184.27 L257.59,183.29 L257.77,182.31 L257.96,181.33 L258.14,180.35 L258.33,179.37 L258.51,178.39 L258.69,177.41 L258.88,176.43 L259.06,175.45 L259.24,174.47 L259.42,173.49 L259.61,172.51 L259.79,171.53 L259.97,170.55 L260.16,169.57 L260.34,168.59 L260.53,167.61 L260.72,166.63 L260.90,165.65 L261.09,164.67 L261.29,163.68 L261.48,162.70 L261.67,161.72 L261.87,160.74 L262.07,159.76 L262.27,158.78 L262.47,157.80 L262.67,156.82 L262.88,155.84 L263.09,154.86 L263.30,153.87 L263.52,152.89 L263.74,151.91 L263.96,150.93 L264.18,149.95 L264.41,148.97 L264.64,147.99 L264.88,147.01 L265.12,146.04 L265.36,145.07 L265.61,144.10 L265.87,143.14 L266.13,142.18 L266.39,141.22 L266.66,140.27 L266.93,139.33 L267.21,138.39 L267.50,137.46 L267.79,136.53 L268.09,135.61 L268.40,134.70 L268.71,133.78 L269.04,132.87 L269.39,131.94 L269.76,131.00 L270.15,130.03 L270.57,129.05 L271.02,128.04 L271.49,127.01 L272.00,126.00 L272.54,125.04 L273.11,124.16 L273.70,123.39 L274.33,122.77 L274.99,122.32 L275.67,122.08 L276.39,122.06 L277.11,122.23 L277.84,122.57 L278.57,123.06 L279.28,123.68 L279.98,124.40 L280.64,125.21 L281.25,126.08 L281.82,126.99 L282.33,127.91 L282.77,128.85 L283.17,129.79 L283.51,130.74 L283.82,131.70 L284.10,132.65 L284.36,133.62 L284.60,134.58 L284.84,135.54 L285.08,136.51 L285.31,137.48 L285.54,138.45 L285.77,139.42 L285.99,140.39 L286.21,141.36 L286.43,142.33 L286.65,143.30 L286.87,144.28 L287.09,145.25 L287.30,146.23 L287.51,147.20 L287.72,148.18 L287.93,149.16 L288.14,150.14 L288.35,151.11 L288.56,152.09 L288.76,153.07 L288.97,154.05 L289.17,155.03 L289.37,156.01 L289.58,156.99 L289.78,157.97 L289.98,158.95 L290.18,159.93 L290.37,160.91 L290.57,161.89 L290.77,162.87 L290.96,163.85 L291.15,164.83 L291.34,165.82 L291.53,166.80 L291.72,167.78 L291.91,168.77 L292.09,169.75 L292.27,170.73 L292.45,171.72 L292.63,172.70 L292.81,173.69 L292.99,174.67 L293.16,175.66 L293.33,176.64 L293.50,177.63 L293.67,178.61 L293.83,179.60 L294.00,180.58 L294.16,181.57 L294.31,182.56 L294.47,183.55 L294.62,184.53 L294.77,185.52 L294.92,186.51 L295.07,187.50 L295.21,188.49 L295.35,189.47 L295.49,190.46 L295.62,191.45 L295.75,192.44 L295.88,193.43 L296.01,194.42 L296.14,195.41 L296.27,196.40 L296.39,197.39 L296.51,198.38 L296.63,199.37 L296.75,200.36 L296.87,201.36 L296.99,202.35 L297.11,203.34 L297.23,204.33 L297.35,205.32 L297.46,206.31 L297.58,207.30 L297.70,208.30 L297.81,209.29 L297.93,210.28 L298.05,211.27 L298.17,212.26 L298.29,213.25 L298.41,214.25 L298.53,215.24 L298.65,216.23 L298.78,217.22 L298.90,218.21 L299.03,219.20 L299.16,220.19 L299.29,221.19 L299.42,222.18 L299.56,223.17 L299.69,224.16 L299.83,225.15 L299.98,226.14 L300.12,227.13 L300.27,228.12 L300.42,229.11 L300.57,230.10 L300.72,231.09 L300.88,232.08 L301.03,233.07 L301.19,234.06 L301.35,235.05 L301.52,236.04 L301.68,237.03 L301.85,238.01 L302.02,239.00 L302.19,239.99 L302.36,240.98 L302.54,241.96 L302.71,242.95 L302.89,243.93 L303.07,244.92 L303.25,245.90 L303.43,246.89 L303.62,247.87 L303.80,248.85 L303.99,249.84 L304.18,250.82 L304.37,251.80 L304.56,252.78 L304.75,253.76 L304.94,254.74 L305.14,255.72 L305.34,256.70 L305.53,257.68 L305.73,258.65 L305.93,259.63 L306.13,260.61 L306.33,261.58 L306.54,262.56 L306.74,263.53 L306.95,264.50 L307.15,265.48 L307.36,266.45 L307.57,267.43 L307.78,268.40 L307.99,269.37 L308.20,270.34 L308.42,271.32 L308.63,272.29 L308.85,273.26 L309.07,274.24 L309.28,275.21 L309.50,276.18 L309.73,277.16 L309.95,278.13 L310.17,279.11 L310.40,280.08 L310.62,281.05 L310.85,282.03 L311.08,283.01 L311.31,283.98 L311.54,284.96 L311.77,285.94 L312.00,286.92 L312.24,287.89 L312.47,288.87 L312.71,289.86 L312.95,290.84 L313.19,291.82 L313.43,292.80 L313.67,293.79 L313.92,294.77 L314.17,295.75 L314.43,296.72 L314.70,297.69 L314.99,298.66 L315.28,299.61 L315.59,300.56 L315.92,301.50 L316.26,302.43 L316.63,303.34 L317.01,304.24 L317.42,305.13 L317.86,306.00 L318.32,306.85 L318.81,307.68 L319.33,308.50 L319.89,309.28 L320.49,310.02 L321.16,310.65 L321.92,311.15 L322.79,311.40 L323.73,311.40 L324.72,311.40 L325.70,311.40 L326.65,311.28 L327.56,310.96 L328.43,310.55 L329.27,310.06 L330.07,309.51 L330.84,308.90 L331.59,308.24 L332.31,307.55 L333.02,306.83 L333.70,306.08 L334.37,305.32 L335.03,304.55 L335.68,303.76 L336.32,302.97 L336.96,302.17 L337.60,301.37 L338.24,300.58 L338.88,299.80 L339.54,299.02 L340.20,298.26 L340.88,297.52 L341.58,296.81 L342.30,296.12 L343.04,295.46 L343.80,294.83 L344.60,294.24 L345.42,293.69 L346.27,293.18 L347.15,292.72 L348.05,292.31 L348.97,291.94 L349.91,291.61 L350.86,291.34 L351.81,291.12 L352.78,290.95 L353.75,290.83 L354.72,290.77 L355.68,290.77 L356.64,290.82 L357.59,290.93 L358.53,291.10 L359.45,291.34 L360.36,291.63 L361.24,291.99 L362.10,292.42 L362.93,292.90 L363.74,293.45 L364.53,294.04 L365.29,294.69 L366.02,295.38 L366.74,296.11 L367.43,296.87 L368.10,297.66 L368.75,298.49 L369.38,299.33 L369.99,300.19 L370.58,301.06 L371.15,301.95 L371.70,302.84 L372.23,303.72 L372.75,304.61 L373.24,305.48 L373.72,306.35 L374.20,307.18 L374.70,307.98 L375.22,308.72 L375.79,309.41 L376.42,310.01 L377.13,310.52 L377.93,310.93 L378.84,311.22 L379.83,311.40 L380.88,311.40 L381.95,311.40 L383.03,311.40 L384.09,311.40 L385.09,311.40 L386.01,311.40 L410.00,311.40" fill="none" stroke="#0868B8" stroke-width="2.1" stroke-linejoin="round"/>
<line x1="413.0" y1="121.9" x2="444.3" y2="121.9" stroke="#DA1628" stroke-width="2"/><text x="450.0" y="125.7" class="leg">SL-A1</text><line x1="413.0" y1="143.0" x2="444.3" y2="143.0" stroke="#0868B8" stroke-width="2"/><text x="450.0" y="146.8" class="leg">SL-B1</text><line x1="413.0" y1="163.1" x2="444.3" y2="163.1" stroke="#0868B8" stroke-width="2" stroke-dasharray="13 6"/><text x="450.0" y="166.9" class="leg">SL-B2</text><line x1="413.0" y1="184.3" x2="444.3" y2="184.3" stroke="#0868B8" stroke-width="2" stroke-dasharray="11 5 2 5"/><text x="450.0" y="188.1" class="leg">SL-B3</text><line x1="413.0" y1="204.9" x2="444.3" y2="204.9" stroke="#0868B8" stroke-width="2" stroke-dasharray="14 6 2 6 2 6"/><text x="450.0" y="208.7" class="leg">SL-B4</text>
<line x1="48" y1="382" x2="48" y2="689.8" stroke="#3a3a3a" stroke-width="1.6"/>
<line x1="47.2" y1="689.2" x2="468.5" y2="689.2" stroke="#3a3a3a" stroke-width="1.6"/>
<line x1="44.2" y1="689.2" x2="48" y2="689.2" stroke="#222" stroke-width="1.3"/><text x="36.8" y="693.4" text-anchor="end" class="ser">0</text><line x1="44.2" y1="628.0" x2="48" y2="628.0" stroke="#222" stroke-width="1.3"/><text x="36.8" y="632.2" text-anchor="end" class="ser">2</text><line x1="44.2" y1="566.8" x2="48" y2="566.8" stroke="#222" stroke-width="1.3"/><text x="36.8" y="571.0" text-anchor="end" class="ser">4</text><line x1="44.2" y1="505.6" x2="48" y2="505.6" stroke="#222" stroke-width="1.3"/><text x="36.8" y="509.8" text-anchor="end" class="ser">6</text><line x1="44.2" y1="444.4" x2="48" y2="444.4" stroke="#222" stroke-width="1.3"/><text x="36.8" y="448.6" text-anchor="end" class="ser">8</text><line x1="44.2" y1="383.2" x2="48" y2="383.2" stroke="#222" stroke-width="1.3"/><text x="36.8" y="387.4" text-anchor="end" class="ser">10</text>
<line x1="48.1" y1="689.2" x2="48.1" y2="693.2" stroke="#222" stroke-width="1.3"/><text x="48.1" y="709.2" text-anchor="middle" class="ser">0.1</text><line x1="132.1" y1="689.2" x2="132.1" y2="693.2" stroke="#222" stroke-width="1.3"/><text x="132.1" y="709.2" text-anchor="middle" class="ser">1</text><line x1="216.1" y1="689.2" x2="216.1" y2="693.2" stroke="#222" stroke-width="1.3"/><text x="216.1" y="709.2" text-anchor="middle" class="ser">10</text><line x1="300.1" y1="689.2" x2="300.1" y2="693.2" stroke="#222" stroke-width="1.3"/><text x="300.1" y="709.2" text-anchor="middle" class="ser">100</text><line x1="384.1" y1="689.2" x2="384.1" y2="693.2" stroke="#222" stroke-width="1.3"/><text x="384.1" y="709.2" text-anchor="middle" class="ser">1000</text><line x1="468.1" y1="689.2" x2="468.1" y2="693.2" stroke="#222" stroke-width="1.3"/><text x="468.1" y="709.2" text-anchor="middle" class="ser">10000</text>
<text x="259" y="727.6" text-anchor="middle" class="ser">μm</text>
<text transform="translate(9.6,534.5) rotate(-90)" text-anchor="middle" class="ser13">Volume content (%)</text>
<path d="M48.10,689.20 L111.45,689.20 L112.49,689.20 L113.49,689.20 L114.46,689.20 L115.39,689.20 L116.30,689.00 L117.18,688.68 L118.04,688.29 L118.88,687.84 L119.70,687.34 L120.52,686.80 L121.32,686.23 L122.12,685.64 L122.92,685.03 L123.72,684.42 L124.52,683.81 L125.33,683.21 L126.16,682.64 L126.99,682.10 L127.84,681.60 L128.71,681.14 L129.59,680.71 L130.49,680.32 L131.40,679.96 L132.32,679.64 L133.25,679.34 L134.20,679.08 L135.15,678.84 L136.12,678.62 L137.09,678.43 L138.07,678.26 L139.05,678.11 L140.04,677.98 L141.04,677.86 L142.04,677.76 L143.04,677.67 L144.04,677.59 L145.05,677.52 L146.05,677.46 L147.06,677.41 L148.07,677.36 L149.08,677.32 L150.09,677.29 L151.09,677.26 L152.10,677.23 L153.11,677.21 L154.12,677.19 L155.13,677.17 L156.14,677.15 L157.15,677.13 L158.15,677.11 L159.16,677.09 L160.17,677.07 L161.17,677.04 L162.17,677.01 L163.18,676.98 L164.18,676.93 L165.17,676.89 L166.17,676.83 L167.17,676.77 L168.16,676.70 L169.15,676.61 L170.14,676.52 L171.12,676.42 L172.11,676.31 L173.09,676.18 L174.06,676.04 L175.04,675.88 L176.01,675.71 L176.98,675.53 L177.94,675.32 L178.90,675.10 L179.86,674.86 L180.81,674.61 L181.76,674.33 L182.71,674.04 L183.65,673.73 L184.59,673.41 L185.52,673.08 L186.46,672.73 L187.39,672.36 L188.32,671.99 L189.24,671.61 L190.16,671.21 L191.08,670.81 L192.00,670.40 L192.92,669.98 L193.83,669.56 L194.75,669.13 L195.66,668.70 L196.57,668.26 L197.48,667.83 L198.39,667.39 L199.30,666.95 L200.21,666.51 L201.11,666.07 L202.02,665.64 L202.92,665.21 L203.83,664.78 L204.74,664.36 L205.64,663.94 L206.55,663.53 L207.46,663.13 L208.37,662.74 L209.28,662.36 L210.19,661.98 L211.10,661.62 L212.01,661.28 L212.93,660.94 L213.84,660.62 L214.76,660.32 L215.69,660.03 L216.63,659.76 L217.57,659.51 L218.53,659.28 L219.50,659.08 L220.49,658.90 L221.50,658.75 L222.52,658.62 L223.57,658.52 L224.63,658.43 L225.69,658.35 L226.74,658.25 L227.79,658.13 L228.80,657.98 L229.79,657.77 L230.73,657.51 L231.62,657.18 L232.47,656.79 L233.28,656.34 L234.05,655.82 L234.78,655.26 L235.47,654.64 L236.13,653.98 L236.75,653.28 L237.35,652.54 L237.92,651.76 L238.46,650.96 L238.98,650.12 L239.48,649.27 L239.96,648.39 L240.43,647.50 L240.88,646.59 L241.32,645.68 L241.76,644.76 L242.18,643.84 L242.60,642.92 L243.01,641.99 L243.41,641.07 L243.81,640.14 L244.19,639.21 L244.58,638.28 L244.95,637.35 L245.32,636.41 L245.68,635.48 L246.04,634.54 L246.39,633.60 L246.73,632.66 L247.07,631.72 L247.40,630.77 L247.73,629.83 L248.05,628.88 L248.36,627.93 L248.67,626.98 L248.97,626.03 L249.27,625.08 L249.56,624.13 L249.85,623.17 L250.13,622.21 L250.41,621.26 L250.68,620.30 L250.95,619.34 L251.22,618.38 L251.47,617.42 L251.73,616.45 L251.98,615.49 L252.23,614.52 L252.47,613.56 L252.71,612.59 L252.94,611.62 L253.17,610.65 L253.40,609.68 L253.62,608.71 L253.84,607.74 L254.06,606.76 L254.27,605.79 L254.48,604.82 L254.69,603.84 L254.89,602.86 L255.10,601.89 L255.29,600.91 L255.49,599.93 L255.68,598.95 L255.88,597.97 L256.07,596.99 L256.25,596.01 L256.44,595.03 L256.62,594.05 L256.80,593.07 L256.98,592.08 L257.16,591.10 L257.34,590.12 L257.51,589.13 L257.68,588.15 L257.86,587.17 L258.03,586.18 L258.20,585.20 L258.37,584.21 L258.54,583.22 L258.70,582.24 L258.87,581.25 L259.04,580.27 L259.20,579.28 L259.37,578.29 L259.54,577.31 L259.70,576.32 L259.87,575.34 L260.03,574.35 L260.20,573.36 L260.37,572.38 L260.53,571.39 L260.70,570.40 L260.86,569.42 L261.03,568.43 L261.20,567.44 L261.36,566.46 L261.53,565.47 L261.70,564.49 L261.86,563.50 L262.03,562.51 L262.19,561.53 L262.36,560.54 L262.52,559.55 L262.69,558.57 L262.85,557.58 L263.02,556.59 L263.18,555.61 L263.35,554.62 L263.51,553.64 L263.67,552.65 L263.84,551.66 L264.00,550.68 L264.16,549.69 L264.32,548.70 L264.49,547.72 L264.65,546.73 L264.81,545.74 L264.97,544.76 L265.13,543.77 L265.29,542.78 L265.45,541.80 L265.60,540.81 L265.76,539.82 L265.92,538.84 L266.07,537.85 L266.23,536.86 L266.38,535.88 L266.54,534.89 L266.69,533.90 L266.84,532.92 L267.00,531.93 L267.15,530.94 L267.30,529.96 L267.45,528.97 L267.60,527.98 L267.75,527.00 L267.89,526.01 L268.04,525.02 L268.18,524.03 L268.33,523.05 L268.47,522.06 L268.61,521.07 L268.76,520.09 L268.90,519.10 L269.04,518.11 L269.18,517.12 L269.31,516.14 L269.45,515.15 L269.58,514.16 L269.72,513.17 L269.85,512.19 L269.98,511.20 L270.11,510.21 L270.24,509.22 L270.37,508.24 L270.50,507.25 L270.63,506.26 L270.75,505.27 L270.88,504.29 L271.00,503.30 L271.12,502.31 L271.25,501.32 L271.38,500.33 L271.51,499.35 L271.64,498.36 L271.78,497.37 L271.92,496.39 L272.06,495.40 L272.21,494.41 L272.36,493.43 L272.52,492.44 L272.68,491.45 L272.86,490.47 L273.03,489.48 L273.22,488.50 L273.42,487.52 L273.62,486.53 L273.83,485.55 L274.06,484.57 L274.29,483.58 L274.54,482.60 L274.79,481.62 L275.06,480.64 L275.34,479.66 L275.63,478.68 L275.94,477.70 L276.26,476.73 L276.60,475.75 L276.95,474.77 L277.31,473.80 L277.69,472.82 L278.09,471.85 L278.51,470.88 L278.94,469.92 L279.39,468.99 L279.86,468.10 L280.36,467.29 L280.87,466.56 L281.41,465.94 L281.97,465.44 L282.55,465.08 L283.16,464.88 L283.79,464.86 L284.45,465.02 L285.11,465.34 L285.77,465.81 L286.41,466.42 L287.03,467.14 L287.62,467.94 L288.18,468.79 L288.70,469.68 L289.17,470.57 L289.62,471.48 L290.02,472.40 L290.39,473.33 L290.74,474.27 L291.05,475.22 L291.34,476.17 L291.60,477.14 L291.85,478.11 L292.07,479.09 L292.28,480.07 L292.47,481.06 L292.65,482.05 L292.82,483.04 L292.99,484.04 L293.15,485.04 L293.30,486.03 L293.45,487.03 L293.61,488.03 L293.76,489.02 L293.92,490.02 L294.07,491.02 L294.23,492.01 L294.38,493.01 L294.54,494.00 L294.69,495.00 L294.85,495.99 L295.00,496.98 L295.16,497.98 L295.31,498.97 L295.47,499.96 L295.62,500.95 L295.78,501.94 L295.93,502.93 L296.09,503.92 L296.24,504.91 L296.39,505.90 L296.55,506.89 L296.70,507.88 L296.86,508.87 L297.01,509.86 L297.17,510.85 L297.32,511.84 L297.47,512.83 L297.63,513.81 L297.78,514.80 L297.93,515.79 L298.09,516.78 L298.24,517.76 L298.39,518.75 L298.54,519.74 L298.69,520.72 L298.85,521.71 L299.00,522.70 L299.15,523.68 L299.30,524.67 L299.45,525.65 L299.60,526.64 L299.75,527.63 L299.90,528.61 L300.05,529.60 L300.20,530.58 L300.35,531.57 L300.49,532.55 L300.64,533.54 L300.79,534.52 L300.94,535.51 L301.08,536.50 L301.23,537.48 L301.37,538.47 L301.52,539.45 L301.66,540.44 L301.81,541.42 L301.95,542.41 L302.09,543.40 L302.23,544.38 L302.38,545.37 L302.52,546.36 L302.66,547.34 L302.80,548.33 L302.94,549.32 L303.08,550.30 L303.22,551.29 L303.35,552.28 L303.49,553.27 L303.63,554.25 L303.76,555.24 L303.90,556.23 L304.03,557.22 L304.17,558.21 L304.30,559.20 L304.43,560.19 L304.56,561.17 L304.69,562.16 L304.83,563.15 L304.96,564.14 L305.09,565.14 L305.21,566.13 L305.34,567.12 L305.47,568.11 L305.60,569.10 L305.73,570.09 L305.85,571.08 L305.98,572.07 L306.11,573.07 L306.23,574.06 L306.36,575.05 L306.48,576.04 L306.61,577.03 L306.73,578.03 L306.86,579.02 L306.98,580.01 L307.11,581.00 L307.23,582.00 L307.36,582.99 L307.48,583.98 L307.60,584.98 L307.73,585.97 L307.85,586.96 L307.98,587.95 L308.10,588.95 L308.23,589.94 L308.35,590.93 L308.47,591.93 L308.60,592.92 L308.72,593.91 L308.85,594.90 L308.97,595.90 L309.10,596.89 L309.23,597.88 L309.35,598.88 L309.48,599.87 L309.61,600.86 L309.73,601.85 L309.86,602.84 L309.99,603.84 L310.12,604.83 L310.25,605.82 L310.38,606.81 L310.51,607.80 L310.64,608.79 L310.77,609.79 L310.90,610.78 L311.03,611.77 L311.17,612.76 L311.30,613.75 L311.43,614.74 L311.57,615.73 L311.71,616.72 L311.84,617.71 L311.98,618.70 L312.12,619.69 L312.26,620.68 L312.40,621.66 L312.54,622.65 L312.68,623.64 L312.82,624.63 L312.97,625.62 L313.11,626.60 L313.26,627.59 L313.41,628.58 L313.55,629.56 L313.70,630.55 L313.85,631.53 L314.00,632.52 L314.16,633.50 L314.31,634.49 L314.46,635.47 L314.62,636.46 L314.77,637.44 L314.93,638.43 L315.08,639.41 L315.24,640.40 L315.39,641.38 L315.55,642.36 L315.71,643.35 L315.87,644.33 L316.03,645.32 L316.19,646.30 L316.34,647.29 L316.50,648.27 L316.66,649.26 L316.82,650.24 L316.98,651.23 L317.14,652.22 L317.30,653.20 L317.46,654.19 L317.61,655.18 L317.77,656.16 L317.93,657.15 L318.09,658.14 L318.24,659.13 L318.40,660.12 L318.56,661.11 L318.71,662.10 L318.87,663.09 L319.02,664.08 L319.17,665.08 L319.33,666.07 L319.48,667.06 L319.64,668.06 L319.80,669.05 L319.97,670.04 L320.14,671.03 L320.31,672.02 L320.50,673.00 L320.69,673.99 L320.90,674.97 L321.11,675.94 L321.34,676.92 L321.58,677.89 L321.84,678.85 L322.11,679.81 L322.39,680.77 L322.70,681.72 L323.02,682.66 L323.37,683.59 L323.75,684.49 L324.16,685.35 L324.62,686.17 L325.13,686.92 L325.69,687.61 L326.32,688.21 L327.02,688.73 L327.79,689.14 L328.64,689.20 L329.58,689.20 L330.61,689.20 L331.75,689.20 L332.98,689.20 L334.34,689.20 L410.00,689.20" fill="none" stroke="#111111" stroke-width="1.9" stroke-linejoin="round"/>
<path d="M48.10,689.20 L111.42,689.20 L112.48,689.20 L113.50,689.20 L114.47,689.20 L115.40,689.20 L116.29,689.04 L117.16,688.70 L117.99,688.28 L118.80,687.78 L119.59,687.23 L120.36,686.62 L121.13,685.97 L121.88,685.30 L122.63,684.61 L123.38,683.90 L124.13,683.20 L124.89,682.52 L125.66,681.86 L126.44,681.23 L127.24,680.64 L128.06,680.10 L128.90,679.60 L129.76,679.14 L130.63,678.71 L131.51,678.33 L132.41,677.97 L133.32,677.65 L134.25,677.35 L135.18,677.09 L136.13,676.85 L137.08,676.64 L138.05,676.45 L139.02,676.28 L140.00,676.12 L140.98,675.99 L141.97,675.87 L142.97,675.76 L143.97,675.67 L144.97,675.59 L145.98,675.52 L146.99,675.46 L148.01,675.41 L149.03,675.36 L150.04,675.33 L151.07,675.29 L152.09,675.27 L153.11,675.24 L154.14,675.22 L155.16,675.20 L156.19,675.17 L157.21,675.15 L158.24,675.13 L159.26,675.10 L160.28,675.07 L161.30,675.03 L162.32,674.98 L163.33,674.93 L164.34,674.87 L165.35,674.80 L166.35,674.72 L167.35,674.62 L168.34,674.52 L169.33,674.39 L170.32,674.26 L171.30,674.11 L172.27,673.94 L173.23,673.75 L174.19,673.54 L175.14,673.31 L176.08,673.06 L177.02,672.79 L177.95,672.50 L178.87,672.19 L179.79,671.87 L180.70,671.52 L181.61,671.17 L182.51,670.79 L183.41,670.41 L184.30,670.01 L185.19,669.60 L186.08,669.18 L186.96,668.75 L187.85,668.32 L188.73,667.87 L189.61,667.42 L190.49,666.97 L191.38,666.51 L192.26,666.05 L193.14,665.59 L194.03,665.13 L194.91,664.66 L195.80,664.20 L196.69,663.75 L197.59,663.29 L198.49,662.84 L199.39,662.40 L200.30,661.96 L201.21,661.53 L202.13,661.11 L203.05,660.70 L203.98,660.30 L204.92,659.91 L205.86,659.53 L206.82,659.17 L207.77,658.82 L208.74,658.49 L209.71,658.16 L210.68,657.84 L211.66,657.53 L212.64,657.22 L213.62,656.92 L214.60,656.62 L215.58,656.33 L216.56,656.03 L217.54,655.73 L218.51,655.43 L219.47,655.13 L220.44,654.82 L221.39,654.51 L222.34,654.18 L223.27,653.85 L224.20,653.51 L225.12,653.15 L226.03,652.78 L226.92,652.40 L227.80,652.00 L228.67,651.58 L229.52,651.14 L230.35,650.68 L231.17,650.20 L231.97,649.70 L232.75,649.17 L233.51,648.62 L234.25,648.04 L234.96,647.43 L235.66,646.79 L236.33,646.12 L236.97,645.42 L237.59,644.68 L238.19,643.92 L238.76,643.13 L239.32,642.31 L239.85,641.47 L240.36,640.61 L240.85,639.73 L241.33,638.84 L241.79,637.92 L242.23,637.00 L242.66,636.06 L243.08,635.12 L243.48,634.16 L243.87,633.20 L244.25,632.24 L244.61,631.28 L244.97,630.31 L245.32,629.35 L245.66,628.39 L245.99,627.43 L246.32,626.47 L246.63,625.52 L246.94,624.57 L247.24,623.61 L247.54,622.66 L247.83,621.71 L248.11,620.75 L248.39,619.80 L248.66,618.85 L248.93,617.90 L249.19,616.94 L249.45,615.99 L249.70,615.03 L249.95,614.07 L250.19,613.11 L250.43,612.15 L250.67,611.19 L250.90,610.23 L251.13,609.26 L251.35,608.29 L251.58,607.33 L251.79,606.36 L252.01,605.39 L252.22,604.42 L252.43,603.44 L252.64,602.47 L252.84,601.50 L253.05,600.52 L253.25,599.54 L253.44,598.57 L253.64,597.59 L253.83,596.61 L254.02,595.63 L254.21,594.65 L254.40,593.67 L254.58,592.69 L254.77,591.70 L254.95,590.72 L255.13,589.74 L255.31,588.75 L255.49,587.77 L255.67,586.78 L255.85,585.80 L256.02,584.81 L256.20,583.83 L256.38,582.84 L256.55,581.86 L256.73,580.87 L256.90,579.88 L257.08,578.90 L257.25,577.91 L257.42,576.92 L257.60,575.93 L257.77,574.95 L257.94,573.96 L258.12,572.97 L258.29,571.98 L258.46,571.00 L258.63,570.01 L258.81,569.02 L258.98,568.03 L259.15,567.05 L259.32,566.06 L259.49,565.07 L259.66,564.08 L259.83,563.09 L260.00,562.11 L260.17,561.12 L260.34,560.13 L260.51,559.14 L260.68,558.15 L260.85,557.17 L261.02,556.18 L261.19,555.19 L261.36,554.20 L261.52,553.21 L261.69,552.23 L261.86,551.24 L262.03,550.25 L262.19,549.26 L262.36,548.28 L262.53,547.29 L262.69,546.30 L262.86,545.31 L263.03,544.33 L263.19,543.34 L263.36,542.35 L263.52,541.37 L263.69,540.38 L263.85,539.40 L264.02,538.41 L264.18,537.42 L264.35,536.44 L264.51,535.45 L264.68,534.47 L264.84,533.48 L265.00,532.50 L265.17,531.52 L265.33,530.53 L265.49,529.55 L265.65,528.56 L265.82,527.58 L265.98,526.60 L266.14,525.61 L266.30,524.63 L266.46,523.65 L266.63,522.67 L266.79,521.69 L266.95,520.71 L267.11,519.73 L267.27,518.75 L267.43,517.77 L267.59,516.79 L267.75,515.81 L267.91,514.83 L268.07,513.85 L268.23,512.87 L268.39,511.89 L268.55,510.92 L268.71,509.94 L268.87,508.96 L269.04,507.98 L269.20,507.00 L269.37,506.03 L269.54,505.05 L269.70,504.07 L269.88,503.09 L270.05,502.11 L270.23,501.13 L270.41,500.14 L270.59,499.16 L270.77,498.17 L270.96,497.19 L271.15,496.20 L271.35,495.21 L271.55,494.22 L271.75,493.23 L271.96,492.24 L272.17,491.25 L272.39,490.25 L272.61,489.25 L272.84,488.25 L273.08,487.25 L273.32,486.25 L273.56,485.24 L273.81,484.23 L274.07,483.22 L274.33,482.21 L274.60,481.19 L274.88,480.17 L275.17,479.17 L275.49,478.18 L275.83,477.22 L276.21,476.31 L276.64,475.46 L277.11,474.67 L277.65,473.96 L278.25,473.34 L278.92,472.83 L279.67,472.43 L280.47,472.17 L281.30,472.09 L282.12,472.20 L282.92,472.53 L283.68,473.03 L284.40,473.66 L285.06,474.38 L285.66,475.14 L286.21,475.92 L286.71,476.74 L287.16,477.59 L287.57,478.45 L287.93,479.35 L288.26,480.26 L288.56,481.19 L288.82,482.14 L289.06,483.10 L289.28,484.07 L289.48,485.06 L289.67,486.05 L289.84,487.05 L290.00,488.05 L290.17,489.05 L290.33,490.05 L290.49,491.05 L290.65,492.05 L290.81,493.05 L290.97,494.05 L291.13,495.05 L291.29,496.05 L291.45,497.05 L291.61,498.04 L291.77,499.04 L291.93,500.04 L292.09,501.03 L292.25,502.03 L292.40,503.02 L292.56,504.02 L292.72,505.01 L292.88,506.00 L293.04,507.00 L293.19,507.99 L293.35,508.98 L293.51,509.97 L293.66,510.96 L293.82,511.95 L293.98,512.94 L294.13,513.93 L294.29,514.92 L294.44,515.91 L294.60,516.90 L294.76,517.89 L294.91,518.88 L295.07,519.87 L295.22,520.85 L295.37,521.84 L295.53,522.83 L295.68,523.82 L295.84,524.80 L295.99,525.79 L296.14,526.78 L296.29,527.76 L296.45,528.75 L296.60,529.74 L296.75,530.72 L296.90,531.71 L297.06,532.69 L297.21,533.68 L297.36,534.66 L297.51,535.65 L297.66,536.63 L297.81,537.62 L297.96,538.60 L298.11,539.59 L298.26,540.58 L298.41,541.56 L298.56,542.55 L298.71,543.53 L298.85,544.52 L299.00,545.50 L299.15,546.49 L299.30,547.47 L299.44,548.46 L299.59,549.44 L299.74,550.43 L299.88,551.42 L300.03,552.40 L300.18,553.39 L300.32,554.38 L300.47,555.36 L300.61,556.35 L300.76,557.34 L300.90,558.32 L301.05,559.31 L301.19,560.30 L301.33,561.29 L301.48,562.28 L301.62,563.26 L301.76,564.25 L301.90,565.24 L302.05,566.23 L302.19,567.22 L302.33,568.21 L302.47,569.20 L302.61,570.19 L302.75,571.18 L302.89,572.17 L303.04,573.16 L303.18,574.15 L303.32,575.14 L303.46,576.13 L303.60,577.12 L303.73,578.11 L303.87,579.10 L304.01,580.09 L304.15,581.08 L304.29,582.07 L304.43,583.06 L304.57,584.06 L304.70,585.05 L304.84,586.04 L304.98,587.03 L305.12,588.02 L305.26,589.01 L305.39,590.00 L305.53,591.00 L305.67,591.99 L305.80,592.98 L305.94,593.97 L306.08,594.96 L306.21,595.96 L306.35,596.95 L306.48,597.94 L306.62,598.93 L306.76,599.92 L306.89,600.92 L307.03,601.91 L307.16,602.90 L307.30,603.89 L307.43,604.88 L307.57,605.88 L307.70,606.87 L307.84,607.86 L307.97,608.85 L308.11,609.84 L308.24,610.84 L308.38,611.83 L308.51,612.82 L308.65,613.81 L308.78,614.80 L308.92,615.79 L309.05,616.79 L309.18,617.78 L309.32,618.77 L309.45,619.76 L309.59,620.75 L309.72,621.74 L309.86,622.73 L309.99,623.72 L310.12,624.72 L310.26,625.71 L310.39,626.70 L310.53,627.69 L310.66,628.68 L310.79,629.67 L310.93,630.66 L311.06,631.65 L311.19,632.64 L311.33,633.63 L311.46,634.62 L311.60,635.61 L311.73,636.60 L311.86,637.59 L312.00,638.58 L312.13,639.56 L312.26,640.55 L312.40,641.54 L312.53,642.53 L312.66,643.52 L312.79,644.51 L312.93,645.50 L313.06,646.49 L313.19,647.47 L313.33,648.46 L313.46,649.45 L313.59,650.44 L313.72,651.43 L313.85,652.41 L313.99,653.40 L314.12,654.39 L314.25,655.38 L314.38,656.36 L314.51,657.35 L314.64,658.34 L314.77,659.33 L314.90,660.31 L315.03,661.30 L315.16,662.29 L315.29,663.28 L315.42,664.27 L315.54,665.26 L315.67,666.25 L315.79,667.25 L315.91,668.25 L316.03,669.24 L316.14,670.25 L316.25,671.25 L316.36,672.26 L316.47,673.26 L316.58,674.28 L316.68,675.29 L316.78,676.31 L316.88,677.33 L316.99,678.34 L317.11,679.35 L317.25,680.34 L317.42,681.32 L317.62,682.28 L317.86,683.22 L318.14,684.14 L318.47,685.02 L318.85,685.87 L319.29,686.68 L319.80,687.45 L320.38,688.18 L321.04,688.85 L321.78,689.20" fill="none" stroke="#111111" stroke-width="1.9" stroke-dasharray="11 5" stroke-linejoin="round"/>
<path d="M48.10,689.20 L111.42,689.20 L112.49,689.20 L113.50,689.20 L114.46,689.20 L115.36,689.18 L116.22,688.89 L117.04,688.52 L117.83,688.06 L118.60,687.55 L119.35,686.98 L120.09,686.38 L120.81,685.73 L121.52,685.06 L122.23,684.36 L122.94,683.65 L123.65,682.94 L124.37,682.21 L125.08,681.49 L125.80,680.77 L126.53,680.05 L127.26,679.34 L128.00,678.64 L128.75,677.95 L129.51,677.27 L130.27,676.62 L131.05,675.98 L131.85,675.37 L132.65,674.79 L133.47,674.23 L134.30,673.71 L135.15,673.21 L136.02,672.75 L136.89,672.31 L137.78,671.90 L138.68,671.51 L139.59,671.15 L140.51,670.80 L141.44,670.47 L142.37,670.17 L143.32,669.87 L144.27,669.59 L145.23,669.33 L146.19,669.07 L147.16,668.83 L148.14,668.59 L149.11,668.36 L150.09,668.13 L151.07,667.90 L152.05,667.68 L153.04,667.45 L154.02,667.22 L155.00,666.99 L155.98,666.76 L156.95,666.51 L157.92,666.26 L158.89,666.00 L159.86,665.72 L160.81,665.44 L161.77,665.13 L162.71,664.82 L163.65,664.49 L164.59,664.15 L165.52,663.80 L166.44,663.43 L167.36,663.05 L168.27,662.66 L169.18,662.25 L170.08,661.84 L170.97,661.41 L171.86,660.97 L172.74,660.52 L173.62,660.06 L174.49,659.58 L175.35,659.10 L176.21,658.60 L177.06,658.09 L177.91,657.58 L178.75,657.05 L179.58,656.51 L180.41,655.96 L181.23,655.40 L182.04,654.84 L182.85,654.26 L183.65,653.67 L184.45,653.07 L185.24,652.47 L186.02,651.85 L186.79,651.23 L187.56,650.60 L188.33,649.95 L189.08,649.30 L189.83,648.65 L190.57,647.98 L191.31,647.31 L192.04,646.62 L192.76,645.94 L193.48,645.24 L194.19,644.53 L194.89,643.82 L195.59,643.10 L196.28,642.38 L196.96,641.65 L197.63,640.91 L198.30,640.17 L198.96,639.41 L199.62,638.66 L200.27,637.89 L200.91,637.13 L201.54,636.35 L202.17,635.57 L202.79,634.79 L203.40,634.00 L204.00,633.20 L204.60,632.40 L205.19,631.60 L205.77,630.79 L206.35,629.98 L206.92,629.16 L207.49,628.34 L208.04,627.51 L208.59,626.68 L209.14,625.84 L209.68,625.00 L210.21,624.16 L210.73,623.31 L211.25,622.46 L211.76,621.60 L212.27,620.75 L212.77,619.88 L213.27,619.02 L213.75,618.15 L214.24,617.28 L214.71,616.40 L215.19,615.52 L215.65,614.64 L216.11,613.75 L216.57,612.87 L217.02,611.97 L217.46,611.08 L217.90,610.19 L218.33,609.29 L218.76,608.39 L219.18,607.48 L219.60,606.58 L220.01,605.67 L220.41,604.75 L220.81,603.84 L221.20,602.92 L221.59,602.00 L221.97,601.08 L222.34,600.16 L222.70,599.23 L223.06,598.30 L223.41,597.36 L223.75,596.43 L224.08,595.49 L224.41,594.55 L224.73,593.60 L225.04,592.66 L225.34,591.71 L225.63,590.75 L225.92,589.80 L226.20,588.84 L226.46,587.88 L226.72,586.92 L226.97,585.95 L227.21,584.98 L227.45,584.01 L227.68,583.04 L227.91,582.07 L228.13,581.09 L228.36,580.12 L228.58,579.14 L228.81,578.17 L229.04,577.20 L229.28,576.23 L229.52,575.26 L229.77,574.29 L230.03,573.33 L230.30,572.37 L230.58,571.41 L230.86,570.46 L231.16,569.51 L231.46,568.56 L231.77,567.61 L232.09,566.67 L232.40,565.72 L232.73,564.78 L233.05,563.83 L233.38,562.89 L233.70,561.95 L234.03,561.01 L234.35,560.06 L234.68,559.12 L235.00,558.17 L235.32,557.23 L235.64,556.28 L235.95,555.33 L236.27,554.38 L236.58,553.44 L236.90,552.49 L237.21,551.54 L237.52,550.59 L237.83,549.64 L238.14,548.69 L238.45,547.74 L238.75,546.79 L239.06,545.84 L239.37,544.89 L239.67,543.94 L239.98,542.99 L240.29,542.05 L240.59,541.10 L240.90,540.15 L241.21,539.21 L241.51,538.26 L241.82,537.32 L242.13,536.37 L242.44,535.43 L242.75,534.49 L243.06,533.55 L243.38,532.61 L243.71,531.67 L244.04,530.74 L244.39,529.80 L244.75,528.87 L245.13,527.94 L245.53,527.02 L245.95,526.09 L246.40,525.17 L246.87,524.26 L247.37,523.34 L247.90,522.44 L248.46,521.53 L249.06,520.65 L249.68,519.81 L250.34,519.02 L251.03,518.31 L251.75,517.69 L252.50,517.18 L253.28,516.80 L254.08,516.55 L254.90,516.44 L255.72,516.46 L256.54,516.61 L257.33,516.86 L258.10,517.23 L258.81,517.69 L259.49,518.24 L260.12,518.87 L260.72,519.58 L261.28,520.36 L261.81,521.19 L262.31,522.08 L262.77,523.00 L263.22,523.97 L263.63,524.96 L264.03,525.97 L264.40,526.99 L264.76,528.01 L265.10,529.03 L265.44,530.04 L265.76,531.03 L266.06,532.02 L266.36,532.99 L266.65,533.96 L266.94,534.92 L267.21,535.88 L267.48,536.83 L267.75,537.77 L268.01,538.72 L268.26,539.66 L268.52,540.61 L268.77,541.56 L269.02,542.50 L269.27,543.45 L269.52,544.40 L269.76,545.36 L270.01,546.31 L270.25,547.26 L270.49,548.22 L270.73,549.18 L270.97,550.14 L271.21,551.10 L271.44,552.06 L271.68,553.02 L271.91,553.98 L272.14,554.95 L272.37,555.91 L272.60,556.88 L272.83,557.85 L273.05,558.82 L273.28,559.79 L273.50,560.76 L273.72,561.73 L273.95,562.70 L274.17,563.67 L274.38,564.65 L274.60,565.62 L274.82,566.60 L275.03,567.57 L275.25,568.55 L275.46,569.53 L275.67,570.51 L275.88,571.49 L276.09,572.46 L276.30,573.44 L276.50,574.42 L276.71,575.40 L276.92,576.39 L277.12,577.37 L277.32,578.35 L277.52,579.33 L277.72,580.31 L277.92,581.29 L278.12,582.28 L278.32,583.26 L278.52,584.24 L278.72,585.23 L278.91,586.21 L279.10,587.19 L279.30,588.18 L279.49,589.16 L279.68,590.14 L279.87,591.13 L280.06,592.11 L280.25,593.09 L280.44,594.07 L280.63,595.06 L280.82,596.04 L281.00,597.02 L281.19,598.00 L281.38,598.99 L281.56,599.97 L281.75,600.95 L281.93,601.93 L282.11,602.91 L282.30,603.89 L282.48,604.87 L282.67,605.85 L282.85,606.84 L283.03,607.82 L283.21,608.80 L283.40,609.78 L283.58,610.76 L283.76,611.74 L283.95,612.72 L284.13,613.70 L284.31,614.67 L284.50,615.65 L284.68,616.63 L284.87,617.61 L285.05,618.59 L285.24,619.57 L285.43,620.55 L285.61,621.53 L285.80,622.50 L285.99,623.48 L286.18,624.46 L286.37,625.44 L286.56,626.41 L286.75,627.39 L286.94,628.37 L287.14,629.35 L287.33,630.32 L287.53,631.30 L287.72,632.28 L287.92,633.25 L288.12,634.23 L288.32,635.20 L288.52,636.18 L288.73,637.16 L288.93,638.13 L289.14,639.11 L289.35,640.08 L289.56,641.06 L289.77,642.03 L289.98,643.01 L290.19,643.98 L290.41,644.96 L290.63,645.93 L290.85,646.90 L291.07,647.88 L291.29,648.85 L291.52,649.82 L291.75,650.80 L291.98,651.77 L292.22,652.74 L292.45,653.71 L292.69,654.68 L292.94,655.65 L293.19,656.62 L293.44,657.59 L293.69,658.55 L293.95,659.52 L294.22,660.48 L294.49,661.44 L294.76,662.41 L295.04,663.36 L295.32,664.32 L295.61,665.28 L295.90,666.23 L296.20,667.19 L296.50,668.14 L296.81,669.09 L297.13,670.03 L297.45,670.98 L297.78,671.92 L298.11,672.86 L298.45,673.80 L298.80,674.73 L299.16,675.67 L299.52,676.60 L299.88,677.54 L300.26,678.47 L300.64,679.41 L301.02,680.34 L301.41,681.28 L301.82,682.21 L302.24,683.12 L302.70,684.00 L303.18,684.86 L303.71,685.66 L304.28,686.41 L304.90,687.11 L305.57,687.73 L306.29,688.27 L307.07,688.73 L307.91,689.10 L308.80,689.20 L309.75,689.20 L310.77,689.20 L311.85,689.20 L312.99,689.20 L314.20,689.20 L410.00,689.20" fill="none" stroke="#DA1628" stroke-width="1.8" stroke-dasharray="11 5" stroke-linejoin="round"/>
<path d="M48.10,689.20 L111.37,689.20 L112.52,689.20 L113.58,689.20 L114.56,689.20 L115.47,689.20 L116.31,688.97 L117.09,688.54 L117.81,688.02 L118.50,687.42 L119.14,686.75 L119.76,686.03 L120.35,685.27 L120.93,684.48 L121.49,683.67 L122.06,682.85 L122.62,682.02 L123.18,681.18 L123.74,680.35 L124.30,679.51 L124.88,678.68 L125.46,677.85 L126.05,677.03 L126.66,676.23 L127.29,675.44 L127.93,674.68 L128.60,673.93 L129.29,673.20 L129.99,672.50 L130.72,671.81 L131.46,671.14 L132.21,670.49 L132.98,669.85 L133.76,669.23 L134.56,668.62 L135.36,668.03 L136.17,667.45 L136.98,666.88 L137.80,666.32 L138.63,665.77 L139.46,665.23 L140.30,664.70 L141.15,664.18 L142.00,663.68 L142.86,663.19 L143.72,662.71 L144.59,662.24 L145.47,661.78 L146.36,661.34 L147.26,660.92 L148.16,660.50 L149.07,660.10 L149.98,659.69 L150.89,659.29 L151.80,658.89 L152.70,658.48 L153.60,658.06 L154.48,657.62 L155.36,657.17 L156.21,656.69 L157.05,656.18 L157.88,655.64 L158.67,655.07 L159.45,654.47 L160.21,653.83 L160.95,653.17 L161.67,652.48 L162.37,651.77 L163.05,651.04 L163.73,650.30 L164.38,649.54 L165.03,648.76 L165.66,647.98 L166.28,647.19 L166.89,646.40 L167.49,645.60 L168.08,644.79 L168.67,643.98 L169.24,643.16 L169.81,642.34 L170.37,641.52 L170.92,640.69 L171.46,639.86 L172.00,639.03 L172.53,638.19 L173.05,637.34 L173.57,636.50 L174.08,635.65 L174.59,634.80 L175.10,633.94 L175.60,633.08 L176.09,632.22 L176.58,631.36 L177.07,630.50 L177.56,629.63 L178.05,628.76 L178.53,627.89 L179.01,627.02 L179.49,626.15 L179.97,625.27 L180.45,624.40 L180.92,623.52 L181.40,622.64 L181.87,621.76 L182.34,620.88 L182.82,620.00 L183.29,619.12 L183.76,618.24 L184.22,617.35 L184.69,616.47 L185.16,615.58 L185.62,614.69 L186.08,613.81 L186.55,612.92 L187.01,612.03 L187.47,611.14 L187.92,610.25 L188.38,609.35 L188.84,608.46 L189.29,607.57 L189.75,606.68 L190.20,605.78 L190.65,604.89 L191.10,603.99 L191.55,603.10 L192.00,602.20 L192.45,601.31 L192.89,600.41 L193.34,599.52 L193.78,598.62 L194.23,597.72 L194.67,596.83 L195.11,595.93 L195.55,595.03 L195.99,594.14 L196.42,593.24 L196.86,592.35 L197.30,591.45 L197.73,590.55 L198.16,589.66 L198.60,588.76 L199.03,587.87 L199.46,586.97 L199.89,586.08 L200.32,585.19 L200.74,584.29 L201.17,583.40 L201.59,582.51 L202.02,581.61 L202.44,580.72 L202.86,579.83 L203.29,578.93 L203.71,578.04 L204.13,577.15 L204.55,576.25 L204.97,575.35 L205.39,574.46 L205.81,573.56 L206.23,572.66 L206.65,571.76 L207.07,570.85 L207.48,569.95 L207.90,569.04 L208.32,568.13 L208.74,567.22 L209.16,566.30 L209.58,565.39 L210.00,564.47 L210.42,563.54 L210.84,562.62 L211.26,561.69 L211.68,560.76 L212.11,559.83 L212.54,558.90 L212.98,557.98 L213.43,557.06 L213.88,556.14 L214.34,555.23 L214.82,554.34 L215.31,553.45 L215.81,552.57 L216.33,551.71 L216.86,550.86 L217.41,550.03 L217.98,549.22 L218.57,548.43 L219.18,547.65 L219.81,546.90 L220.47,546.17 L221.15,545.47 L221.86,544.79 L222.60,544.14 L223.36,543.52 L224.14,542.95 L224.95,542.42 L225.77,541.95 L226.61,541.55 L227.45,541.22 L228.31,540.97 L229.16,540.81 L230.02,540.75 L230.87,540.80 L231.71,540.96 L232.54,541.24 L233.36,541.64 L234.16,542.15 L234.94,542.75 L235.70,543.41 L236.44,544.14 L237.14,544.91 L237.82,545.72 L238.47,546.55 L239.09,547.41 L239.69,548.28 L240.26,549.17 L240.81,550.06 L241.33,550.96 L241.84,551.86 L242.33,552.76 L242.79,553.67 L243.24,554.58 L243.68,555.49 L244.09,556.41 L244.49,557.33 L244.88,558.25 L245.26,559.18 L245.62,560.10 L245.97,561.03 L246.31,561.96 L246.64,562.90 L246.97,563.83 L247.28,564.77 L247.60,565.71 L247.90,566.64 L248.20,567.58 L248.50,568.53 L248.80,569.47 L249.10,570.41 L249.39,571.35 L249.69,572.30 L249.99,573.24 L250.29,574.18 L250.59,575.13 L250.89,576.07 L251.19,577.02 L251.50,577.96 L251.80,578.91 L252.11,579.85 L252.42,580.80 L252.73,581.74 L253.04,582.69 L253.35,583.63 L253.66,584.58 L253.98,585.52 L254.29,586.47 L254.61,587.42 L254.92,588.36 L255.24,589.31 L255.56,590.25 L255.88,591.20 L256.20,592.15 L256.52,593.09 L256.85,594.04 L257.17,594.98 L257.50,595.93 L257.82,596.87 L258.15,597.82 L258.48,598.76 L258.81,599.71 L259.14,600.65 L259.47,601.60 L259.80,602.54 L260.13,603.48 L260.47,604.43 L260.80,605.37 L261.14,606.31 L261.48,607.26 L261.81,608.20 L262.15,609.14 L262.49,610.08 L262.83,611.03 L263.17,611.97 L263.51,612.91 L263.85,613.85 L264.20,614.79 L264.54,615.73 L264.88,616.67 L265.23,617.60 L265.58,618.54 L265.92,619.48 L266.27,620.42 L266.62,621.35 L266.97,622.29 L267.32,623.22 L267.67,624.16 L268.03,625.09 L268.38,626.03 L268.74,626.96 L269.09,627.89 L269.45,628.82 L269.81,629.75 L270.17,630.68 L270.54,631.61 L270.90,632.54 L271.27,633.47 L271.63,634.40 L272.00,635.32 L272.37,636.25 L272.75,637.17 L273.12,638.10 L273.50,639.02 L273.87,639.94 L274.25,640.86 L274.64,641.78 L275.02,642.70 L275.40,643.62 L275.79,644.54 L276.18,645.46 L276.57,646.37 L276.97,647.29 L277.36,648.20 L277.76,649.11 L278.16,650.03 L278.57,650.94 L278.97,651.85 L279.38,652.76 L279.79,653.66 L280.21,654.57 L280.62,655.48 L281.04,656.38 L281.46,657.28 L281.88,658.18 L282.31,659.09 L282.74,659.99 L283.17,660.88 L283.61,661.78 L284.05,662.67 L284.49,663.57 L284.95,664.46 L285.40,665.34 L285.86,666.23 L286.33,667.10 L286.81,667.98 L287.29,668.85 L287.79,669.72 L288.29,670.58 L288.80,671.44 L289.32,672.29 L289.85,673.13 L290.39,673.97 L290.94,674.81 L291.51,675.63 L292.08,676.45 L292.67,677.27 L293.28,678.07 L293.89,678.87 L294.52,679.66 L295.17,680.44 L295.83,681.21 L296.50,681.96 L297.20,682.69 L297.91,683.41 L298.63,684.10 L299.38,684.76 L300.14,685.39 L300.93,685.99 L301.73,686.55 L302.55,687.07 L303.40,687.54 L304.26,687.97 L305.15,688.35 L306.05,688.67 L306.99,688.94 L307.94,689.14 L308.92,689.20 L309.92,689.20 L310.95,689.20 L312.01,689.20 L313.08,689.20 L410.00,689.20" fill="none" stroke="#DA1628" stroke-width="1.7" stroke-linejoin="round"/>
<line x1="410.2" y1="521.9" x2="441.8" y2="521.9" stroke="#111111" stroke-width="2"/><text x="448.4" y="525.7" class="leg">SL-C1</text><line x1="410.2" y1="542.7" x2="441.8" y2="542.7" stroke="#111111" stroke-width="2" stroke-dasharray="11 5"/><text x="448.4" y="546.5" class="leg">SL-C2</text><line x1="410.2" y1="563.6" x2="441.8" y2="563.6" stroke="#DA1628" stroke-width="2"/><text x="448.4" y="567.4" class="leg">SL-D1</text><line x1="410.2" y1="584.0" x2="441.8" y2="584.0" stroke="#DA1628" stroke-width="2" stroke-dasharray="11 5"/><text x="448.4" y="587.8" class="leg">SL-D2</text>
</svg>
</body></html>
